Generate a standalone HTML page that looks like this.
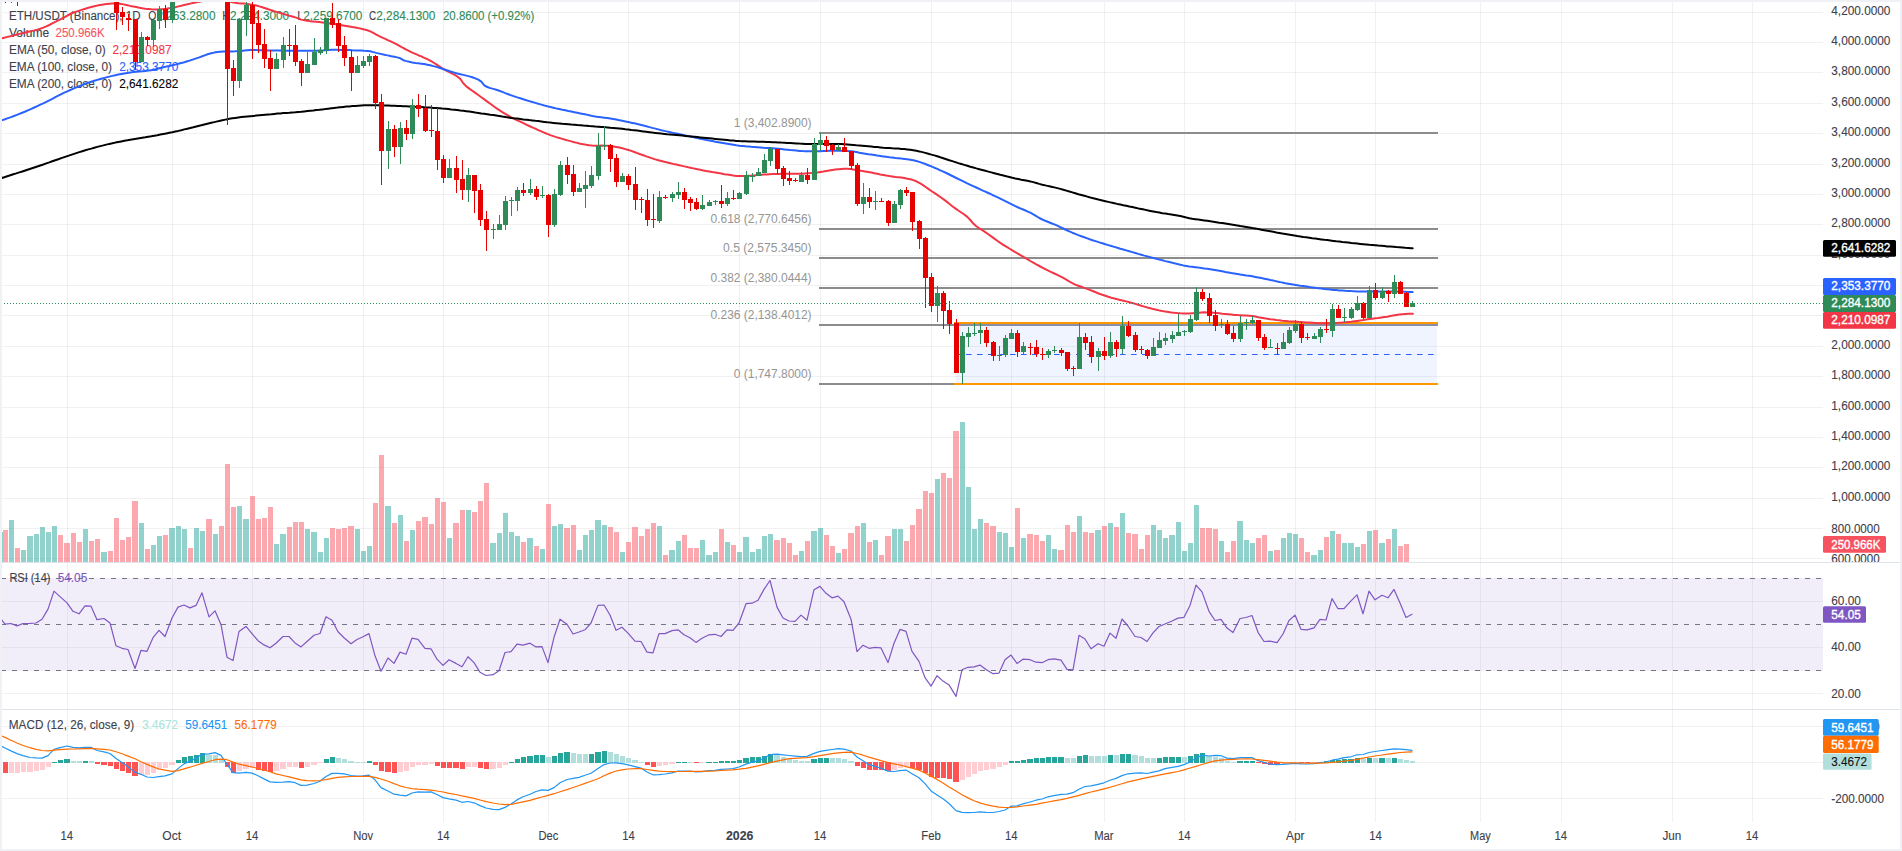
<!DOCTYPE html>
<html><head><meta charset="utf-8"><title>ETH/USDT chart</title>
<style>html,body{margin:0;padding:0;background:#fff;overflow:hidden}svg{display:block}</style></head>
<body>
<svg width="1902" height="851" viewBox="0 0 1902 851" font-family="Liberation Sans, Arial, sans-serif" shape-rendering="auto">
<rect width="1902" height="851" fill="#fff"/>
<g stroke="#2a2e39" stroke-opacity="0.065" stroke-width="1" shape-rendering="crispEdges">
<line x1="67.5" y1="2" x2="67.5" y2="822"/>
<line x1="172.5" y1="2" x2="172.5" y2="822"/>
<line x1="252.5" y1="2" x2="252.5" y2="822"/>
<line x1="363.5" y1="2" x2="363.5" y2="822"/>
<line x1="443.5" y1="2" x2="443.5" y2="822"/>
<line x1="548.5" y1="2" x2="548.5" y2="822"/>
<line x1="628.5" y1="2" x2="628.5" y2="822"/>
<line x1="739.5" y1="2" x2="739.5" y2="822"/>
<line x1="820.5" y1="2" x2="820.5" y2="822"/>
<line x1="931.5" y1="2" x2="931.5" y2="822"/>
<line x1="1011.5" y1="2" x2="1011.5" y2="822"/>
<line x1="1104.5" y1="2" x2="1104.5" y2="822"/>
<line x1="1184.5" y1="2" x2="1184.5" y2="822"/>
<line x1="1295.5" y1="2" x2="1295.5" y2="822"/>
<line x1="1375.5" y1="2" x2="1375.5" y2="822"/>
<line x1="1480.5" y1="2" x2="1480.5" y2="822"/>
<line x1="1561.5" y1="2" x2="1561.5" y2="822"/>
<line x1="1672.5" y1="2" x2="1672.5" y2="822"/>
<line x1="1752.5" y1="2" x2="1752.5" y2="822"/>
<line x1="2" y1="558.5" x2="1823" y2="558.5"/>
<line x1="2" y1="528.5" x2="1823" y2="528.5"/>
<line x1="2" y1="498.5" x2="1823" y2="498.5"/>
<line x1="2" y1="467.5" x2="1823" y2="467.5"/>
<line x1="2" y1="437.5" x2="1823" y2="437.5"/>
<line x1="2" y1="407.5" x2="1823" y2="407.5"/>
<line x1="2" y1="376.5" x2="1823" y2="376.5"/>
<line x1="2" y1="346.5" x2="1823" y2="346.5"/>
<line x1="2" y1="315.5" x2="1823" y2="315.5"/>
<line x1="2" y1="285.5" x2="1823" y2="285.5"/>
<line x1="2" y1="255.5" x2="1823" y2="255.5"/>
<line x1="2" y1="224.5" x2="1823" y2="224.5"/>
<line x1="2" y1="194.5" x2="1823" y2="194.5"/>
<line x1="2" y1="164.5" x2="1823" y2="164.5"/>
<line x1="2" y1="133.5" x2="1823" y2="133.5"/>
<line x1="2" y1="103.5" x2="1823" y2="103.5"/>
<line x1="2" y1="72.5" x2="1823" y2="72.5"/>
<line x1="2" y1="42.5" x2="1823" y2="42.5"/>
<line x1="2" y1="12.5" x2="1823" y2="12.5"/>
<line x1="2" y1="601.5" x2="1823" y2="601.5"/>
<line x1="2" y1="647.5" x2="1823" y2="647.5"/>
<line x1="2" y1="693.5" x2="1823" y2="693.5"/>
<line x1="2" y1="726.5" x2="1823" y2="726.5"/>
<line x1="2" y1="762.5" x2="1823" y2="762.5"/>
<line x1="2" y1="798.5" x2="1823" y2="798.5"/>
</g>
<rect x="2" y="578" width="1821" height="93" fill="#7e57c2" fill-opacity="0.1"/>
<g id="legend">
<text x="9.00" y="19.80" font-size="12" fill="#3d404a" text-anchor="start" textLength="131.59" lengthAdjust="spacingAndGlyphs" stroke="#3d404a" stroke-width="0.1">ETH/USDT (Binance), 1D</text>
<text x="148.30" y="19.80" font-size="12" fill="#3d404a" text-anchor="start" textLength="8.09" lengthAdjust="spacingAndGlyphs" stroke="#3d404a" stroke-width="0.1">O</text>
<text x="156.39" y="19.80" font-size="12" fill="#2e8b57" text-anchor="start" textLength="59.11" lengthAdjust="spacingAndGlyphs" stroke="#2e8b57" stroke-width="0.1">2,263.2800</text>
<text x="222.20" y="19.80" font-size="12" fill="#3d404a" text-anchor="start" textLength="7.85" lengthAdjust="spacingAndGlyphs" stroke="#3d404a" stroke-width="0.1">H</text>
<text x="230.05" y="19.80" font-size="12" fill="#2e8b57" text-anchor="start" textLength="59.11" lengthAdjust="spacingAndGlyphs" stroke="#2e8b57" stroke-width="0.1">2,294.3000</text>
<text x="297.20" y="19.80" font-size="12" fill="#3d404a" text-anchor="start" textLength="6.07" lengthAdjust="spacingAndGlyphs" stroke="#3d404a" stroke-width="0.1">L</text>
<text x="303.27" y="19.80" font-size="12" fill="#2e8b57" text-anchor="start" textLength="59.11" lengthAdjust="spacingAndGlyphs" stroke="#2e8b57" stroke-width="0.1">2,259.6700</text>
<text x="369.10" y="19.80" font-size="12" fill="#3d404a" text-anchor="start" textLength="7.18" lengthAdjust="spacingAndGlyphs" stroke="#3d404a" stroke-width="0.1">C</text>
<text x="376.28" y="19.80" font-size="12" fill="#2e8b57" text-anchor="start" textLength="59.11" lengthAdjust="spacingAndGlyphs" stroke="#2e8b57" stroke-width="0.1">2,284.1300</text>
<text x="443.00" y="19.80" font-size="12" fill="#2e8b57" text-anchor="start" textLength="91.31" lengthAdjust="spacingAndGlyphs" stroke="#2e8b57" stroke-width="0.1">20.8600 (+0.92%)</text>
<text x="9.00" y="36.80" font-size="12" fill="#3d404a" text-anchor="start" textLength="40.08" lengthAdjust="spacingAndGlyphs" stroke="#3d404a" stroke-width="0.1">Volume</text>
<text x="55.60" y="36.80" font-size="12" fill="#f7525f" text-anchor="start" textLength="49.04" lengthAdjust="spacingAndGlyphs" stroke="#f7525f" stroke-width="0.1">250.966K</text>
<text x="9.00" y="53.80" font-size="12" fill="#3d404a" text-anchor="start" textLength="96.66" lengthAdjust="spacingAndGlyphs" stroke="#3d404a" stroke-width="0.1">EMA (50, close, 0)</text>
<text x="112.50" y="53.80" font-size="12" fill="#f23645" text-anchor="start" textLength="59.11" lengthAdjust="spacingAndGlyphs" stroke="#f23645" stroke-width="0.1">2,210.0987</text>
<text x="9.00" y="70.80" font-size="12" fill="#3d404a" text-anchor="start" textLength="102.95" lengthAdjust="spacingAndGlyphs" stroke="#3d404a" stroke-width="0.1">EMA (100, close, 0)</text>
<text x="119.20" y="70.80" font-size="12" fill="#2962ff" text-anchor="start" textLength="59.11" lengthAdjust="spacingAndGlyphs" stroke="#2962ff" stroke-width="0.1">2,353.3770</text>
<text x="9.00" y="87.80" font-size="12" fill="#3d404a" text-anchor="start" textLength="102.95" lengthAdjust="spacingAndGlyphs" stroke="#3d404a" stroke-width="0.1">EMA (200, close, 0)</text>
<text x="119.20" y="87.80" font-size="12" fill="#000" text-anchor="start" textLength="59.11" lengthAdjust="spacingAndGlyphs" stroke="#000" stroke-width="0.1">2,641.6282</text>
</g>
<g shape-rendering="crispEdges">
<rect x="3" y="530.0" width="5" height="32.0" fill="#f7525f" fill-opacity="0.5"/>
<rect x="9" y="519.9" width="5" height="42.1" fill="#26a69a" fill-opacity="0.5"/>
<rect x="15" y="548.0" width="5" height="14.0" fill="#f7525f" fill-opacity="0.5"/>
<rect x="21" y="549.9" width="5" height="12.1" fill="#26a69a" fill-opacity="0.5"/>
<rect x="27" y="535.9" width="6" height="26.1" fill="#26a69a" fill-opacity="0.5"/>
<rect x="34" y="533.9" width="5" height="28.1" fill="#26a69a" fill-opacity="0.5"/>
<rect x="40" y="527.0" width="5" height="35.0" fill="#26a69a" fill-opacity="0.5"/>
<rect x="46" y="532.0" width="5" height="30.0" fill="#26a69a" fill-opacity="0.5"/>
<rect x="52" y="525.8" width="5" height="36.2" fill="#26a69a" fill-opacity="0.5"/>
<rect x="58" y="535.1" width="5" height="26.9" fill="#f7525f" fill-opacity="0.5"/>
<rect x="64" y="543.0" width="6" height="19.0" fill="#f7525f" fill-opacity="0.5"/>
<rect x="71" y="533.0" width="5" height="29.0" fill="#f7525f" fill-opacity="0.5"/>
<rect x="77" y="542.0" width="5" height="20.0" fill="#f7525f" fill-opacity="0.5"/>
<rect x="83" y="528.8" width="5" height="33.2" fill="#26a69a" fill-opacity="0.5"/>
<rect x="89" y="540.9" width="5" height="21.1" fill="#f7525f" fill-opacity="0.5"/>
<rect x="95" y="538.9" width="5" height="23.1" fill="#f7525f" fill-opacity="0.5"/>
<rect x="101" y="551.9" width="6" height="10.1" fill="#26a69a" fill-opacity="0.5"/>
<rect x="108" y="551.0" width="5" height="11.0" fill="#f7525f" fill-opacity="0.5"/>
<rect x="114" y="517.9" width="5" height="44.1" fill="#f7525f" fill-opacity="0.5"/>
<rect x="120" y="540.1" width="5" height="21.9" fill="#f7525f" fill-opacity="0.5"/>
<rect x="126" y="537.1" width="5" height="24.9" fill="#f7525f" fill-opacity="0.5"/>
<rect x="132" y="500.9" width="6" height="61.1" fill="#f7525f" fill-opacity="0.5"/>
<rect x="139" y="522.9" width="5" height="39.1" fill="#26a69a" fill-opacity="0.5"/>
<rect x="145" y="549.0" width="5" height="13.0" fill="#f7525f" fill-opacity="0.5"/>
<rect x="151" y="545.0" width="5" height="17.0" fill="#26a69a" fill-opacity="0.5"/>
<rect x="157" y="535.9" width="5" height="26.1" fill="#26a69a" fill-opacity="0.5"/>
<rect x="163" y="535.1" width="5" height="26.9" fill="#f7525f" fill-opacity="0.5"/>
<rect x="169" y="528.0" width="6" height="34.0" fill="#26a69a" fill-opacity="0.5"/>
<rect x="176" y="526.0" width="5" height="36.0" fill="#26a69a" fill-opacity="0.5"/>
<rect x="182" y="529.0" width="5" height="33.0" fill="#26a69a" fill-opacity="0.5"/>
<rect x="188" y="548.0" width="5" height="14.0" fill="#f7525f" fill-opacity="0.5"/>
<rect x="194" y="528.0" width="5" height="34.0" fill="#26a69a" fill-opacity="0.5"/>
<rect x="200" y="531.0" width="5" height="31.0" fill="#26a69a" fill-opacity="0.5"/>
<rect x="206" y="519.1" width="6" height="42.9" fill="#f7525f" fill-opacity="0.5"/>
<rect x="213" y="533.9" width="5" height="28.1" fill="#26a69a" fill-opacity="0.5"/>
<rect x="219" y="526.0" width="5" height="36.0" fill="#f7525f" fill-opacity="0.5"/>
<rect x="225" y="463.9" width="5" height="98.1" fill="#f7525f" fill-opacity="0.5"/>
<rect x="231" y="507.0" width="5" height="55.0" fill="#f7525f" fill-opacity="0.5"/>
<rect x="237" y="506.0" width="5" height="56.0" fill="#26a69a" fill-opacity="0.5"/>
<rect x="243" y="519.1" width="6" height="42.9" fill="#26a69a" fill-opacity="0.5"/>
<rect x="250" y="496.0" width="5" height="66.0" fill="#f7525f" fill-opacity="0.5"/>
<rect x="256" y="519.1" width="5" height="42.9" fill="#f7525f" fill-opacity="0.5"/>
<rect x="262" y="517.9" width="5" height="44.1" fill="#f7525f" fill-opacity="0.5"/>
<rect x="268" y="507.0" width="5" height="55.0" fill="#f7525f" fill-opacity="0.5"/>
<rect x="274" y="544.0" width="5" height="18.0" fill="#26a69a" fill-opacity="0.5"/>
<rect x="280" y="533.9" width="6" height="28.1" fill="#26a69a" fill-opacity="0.5"/>
<rect x="287" y="527.0" width="5" height="35.0" fill="#f7525f" fill-opacity="0.5"/>
<rect x="293" y="521.9" width="5" height="40.1" fill="#f7525f" fill-opacity="0.5"/>
<rect x="299" y="521.9" width="5" height="40.1" fill="#f7525f" fill-opacity="0.5"/>
<rect x="305" y="529.0" width="5" height="33.0" fill="#26a69a" fill-opacity="0.5"/>
<rect x="311" y="532.0" width="6" height="30.0" fill="#26a69a" fill-opacity="0.5"/>
<rect x="318" y="551.9" width="5" height="10.1" fill="#26a69a" fill-opacity="0.5"/>
<rect x="324" y="538.1" width="5" height="23.9" fill="#26a69a" fill-opacity="0.5"/>
<rect x="330" y="528.0" width="5" height="34.0" fill="#f7525f" fill-opacity="0.5"/>
<rect x="336" y="529.0" width="5" height="33.0" fill="#f7525f" fill-opacity="0.5"/>
<rect x="342" y="528.0" width="5" height="34.0" fill="#f7525f" fill-opacity="0.5"/>
<rect x="348" y="526.0" width="6" height="36.0" fill="#f7525f" fill-opacity="0.5"/>
<rect x="355" y="529.0" width="5" height="33.0" fill="#26a69a" fill-opacity="0.5"/>
<rect x="361" y="551.0" width="5" height="11.0" fill="#26a69a" fill-opacity="0.5"/>
<rect x="367" y="546.0" width="5" height="16.0" fill="#26a69a" fill-opacity="0.5"/>
<rect x="373" y="502.9" width="5" height="59.1" fill="#f7525f" fill-opacity="0.5"/>
<rect x="379" y="455.0" width="5" height="107.0" fill="#f7525f" fill-opacity="0.5"/>
<rect x="385" y="506.0" width="6" height="56.0" fill="#26a69a" fill-opacity="0.5"/>
<rect x="392" y="522.9" width="5" height="39.1" fill="#f7525f" fill-opacity="0.5"/>
<rect x="398" y="515.0" width="5" height="47.0" fill="#26a69a" fill-opacity="0.5"/>
<rect x="404" y="540.9" width="5" height="21.1" fill="#f7525f" fill-opacity="0.5"/>
<rect x="410" y="530.0" width="5" height="32.0" fill="#26a69a" fill-opacity="0.5"/>
<rect x="416" y="520.9" width="5" height="41.1" fill="#f7525f" fill-opacity="0.5"/>
<rect x="422" y="517.1" width="6" height="44.9" fill="#f7525f" fill-opacity="0.5"/>
<rect x="429" y="524.0" width="5" height="38.0" fill="#f7525f" fill-opacity="0.5"/>
<rect x="435" y="498.0" width="5" height="64.0" fill="#f7525f" fill-opacity="0.5"/>
<rect x="441" y="501.9" width="5" height="60.1" fill="#f7525f" fill-opacity="0.5"/>
<rect x="447" y="538.1" width="5" height="23.9" fill="#26a69a" fill-opacity="0.5"/>
<rect x="453" y="522.9" width="6" height="39.1" fill="#f7525f" fill-opacity="0.5"/>
<rect x="460" y="510.0" width="5" height="52.0" fill="#f7525f" fill-opacity="0.5"/>
<rect x="466" y="510.0" width="5" height="52.0" fill="#26a69a" fill-opacity="0.5"/>
<rect x="472" y="512.0" width="5" height="50.0" fill="#f7525f" fill-opacity="0.5"/>
<rect x="478" y="500.9" width="5" height="61.1" fill="#f7525f" fill-opacity="0.5"/>
<rect x="484" y="482.9" width="5" height="79.1" fill="#f7525f" fill-opacity="0.5"/>
<rect x="490" y="543.0" width="6" height="19.0" fill="#26a69a" fill-opacity="0.5"/>
<rect x="497" y="533.0" width="5" height="29.0" fill="#26a69a" fill-opacity="0.5"/>
<rect x="503" y="513.0" width="5" height="49.0" fill="#26a69a" fill-opacity="0.5"/>
<rect x="509" y="532.0" width="5" height="30.0" fill="#26a69a" fill-opacity="0.5"/>
<rect x="515" y="535.9" width="5" height="26.1" fill="#26a69a" fill-opacity="0.5"/>
<rect x="521" y="542.0" width="5" height="20.0" fill="#f7525f" fill-opacity="0.5"/>
<rect x="527" y="538.1" width="6" height="23.9" fill="#26a69a" fill-opacity="0.5"/>
<rect x="534" y="546.0" width="5" height="16.0" fill="#f7525f" fill-opacity="0.5"/>
<rect x="540" y="549.0" width="5" height="13.0" fill="#26a69a" fill-opacity="0.5"/>
<rect x="546" y="503.9" width="5" height="58.1" fill="#f7525f" fill-opacity="0.5"/>
<rect x="552" y="526.0" width="5" height="36.0" fill="#26a69a" fill-opacity="0.5"/>
<rect x="558" y="524.0" width="5" height="38.0" fill="#26a69a" fill-opacity="0.5"/>
<rect x="564" y="528.0" width="6" height="34.0" fill="#f7525f" fill-opacity="0.5"/>
<rect x="571" y="525.0" width="5" height="37.0" fill="#f7525f" fill-opacity="0.5"/>
<rect x="577" y="550.0" width="5" height="12.0" fill="#26a69a" fill-opacity="0.5"/>
<rect x="583" y="535.1" width="5" height="26.9" fill="#26a69a" fill-opacity="0.5"/>
<rect x="589" y="530.0" width="5" height="32.0" fill="#26a69a" fill-opacity="0.5"/>
<rect x="595" y="519.9" width="6" height="42.1" fill="#26a69a" fill-opacity="0.5"/>
<rect x="602" y="525.0" width="5" height="37.0" fill="#26a69a" fill-opacity="0.5"/>
<rect x="608" y="527.0" width="5" height="35.0" fill="#f7525f" fill-opacity="0.5"/>
<rect x="614" y="532.0" width="5" height="30.0" fill="#f7525f" fill-opacity="0.5"/>
<rect x="620" y="551.9" width="5" height="10.1" fill="#26a69a" fill-opacity="0.5"/>
<rect x="626" y="542.0" width="5" height="20.0" fill="#f7525f" fill-opacity="0.5"/>
<rect x="632" y="527.0" width="6" height="35.0" fill="#f7525f" fill-opacity="0.5"/>
<rect x="639" y="535.9" width="5" height="26.1" fill="#f7525f" fill-opacity="0.5"/>
<rect x="645" y="529.0" width="5" height="33.0" fill="#f7525f" fill-opacity="0.5"/>
<rect x="651" y="522.9" width="5" height="39.1" fill="#f7525f" fill-opacity="0.5"/>
<rect x="657" y="526.0" width="5" height="36.0" fill="#26a69a" fill-opacity="0.5"/>
<rect x="663" y="554.9" width="5" height="7.1" fill="#f7525f" fill-opacity="0.5"/>
<rect x="669" y="550.0" width="6" height="12.0" fill="#26a69a" fill-opacity="0.5"/>
<rect x="676" y="540.9" width="5" height="21.1" fill="#26a69a" fill-opacity="0.5"/>
<rect x="682" y="535.1" width="5" height="26.9" fill="#f7525f" fill-opacity="0.5"/>
<rect x="688" y="548.0" width="5" height="14.0" fill="#f7525f" fill-opacity="0.5"/>
<rect x="694" y="548.0" width="5" height="14.0" fill="#f7525f" fill-opacity="0.5"/>
<rect x="700" y="540.1" width="5" height="21.9" fill="#26a69a" fill-opacity="0.5"/>
<rect x="706" y="554.9" width="6" height="7.1" fill="#26a69a" fill-opacity="0.5"/>
<rect x="713" y="551.9" width="5" height="10.1" fill="#26a69a" fill-opacity="0.5"/>
<rect x="719" y="529.0" width="5" height="33.0" fill="#f7525f" fill-opacity="0.5"/>
<rect x="725" y="542.0" width="5" height="20.0" fill="#26a69a" fill-opacity="0.5"/>
<rect x="731" y="545.0" width="5" height="17.0" fill="#f7525f" fill-opacity="0.5"/>
<rect x="737" y="551.9" width="5" height="10.1" fill="#26a69a" fill-opacity="0.5"/>
<rect x="743" y="537.1" width="6" height="24.9" fill="#26a69a" fill-opacity="0.5"/>
<rect x="750" y="551.9" width="5" height="10.1" fill="#26a69a" fill-opacity="0.5"/>
<rect x="756" y="549.0" width="5" height="13.0" fill="#26a69a" fill-opacity="0.5"/>
<rect x="762" y="535.9" width="5" height="26.1" fill="#26a69a" fill-opacity="0.5"/>
<rect x="768" y="533.9" width="5" height="28.1" fill="#26a69a" fill-opacity="0.5"/>
<rect x="774" y="540.1" width="6" height="21.9" fill="#f7525f" fill-opacity="0.5"/>
<rect x="781" y="538.1" width="5" height="23.9" fill="#f7525f" fill-opacity="0.5"/>
<rect x="787" y="543.0" width="5" height="19.0" fill="#f7525f" fill-opacity="0.5"/>
<rect x="793" y="554.9" width="5" height="7.1" fill="#f7525f" fill-opacity="0.5"/>
<rect x="799" y="551.0" width="5" height="11.0" fill="#26a69a" fill-opacity="0.5"/>
<rect x="805" y="540.9" width="5" height="21.1" fill="#f7525f" fill-opacity="0.5"/>
<rect x="811" y="531.0" width="6" height="31.0" fill="#26a69a" fill-opacity="0.5"/>
<rect x="818" y="528.0" width="5" height="34.0" fill="#26a69a" fill-opacity="0.5"/>
<rect x="824" y="535.1" width="5" height="26.9" fill="#f7525f" fill-opacity="0.5"/>
<rect x="830" y="546.0" width="5" height="16.0" fill="#f7525f" fill-opacity="0.5"/>
<rect x="836" y="553.1" width="5" height="8.9" fill="#26a69a" fill-opacity="0.5"/>
<rect x="842" y="549.0" width="5" height="13.0" fill="#f7525f" fill-opacity="0.5"/>
<rect x="848" y="533.0" width="6" height="29.0" fill="#f7525f" fill-opacity="0.5"/>
<rect x="855" y="526.0" width="5" height="36.0" fill="#f7525f" fill-opacity="0.5"/>
<rect x="861" y="522.9" width="5" height="39.1" fill="#26a69a" fill-opacity="0.5"/>
<rect x="867" y="542.0" width="5" height="20.0" fill="#f7525f" fill-opacity="0.5"/>
<rect x="873" y="540.1" width="5" height="21.9" fill="#26a69a" fill-opacity="0.5"/>
<rect x="879" y="554.9" width="5" height="7.1" fill="#f7525f" fill-opacity="0.5"/>
<rect x="885" y="535.9" width="6" height="26.1" fill="#f7525f" fill-opacity="0.5"/>
<rect x="892" y="529.0" width="5" height="33.0" fill="#26a69a" fill-opacity="0.5"/>
<rect x="898" y="529.0" width="5" height="33.0" fill="#26a69a" fill-opacity="0.5"/>
<rect x="904" y="541.1" width="5" height="20.9" fill="#f7525f" fill-opacity="0.5"/>
<rect x="910" y="525.2" width="5" height="36.8" fill="#f7525f" fill-opacity="0.5"/>
<rect x="916" y="509.2" width="6" height="52.8" fill="#f7525f" fill-opacity="0.5"/>
<rect x="923" y="491.2" width="5" height="70.8" fill="#f7525f" fill-opacity="0.5"/>
<rect x="929" y="493.2" width="5" height="68.8" fill="#f7525f" fill-opacity="0.5"/>
<rect x="935" y="479.2" width="5" height="82.8" fill="#26a69a" fill-opacity="0.5"/>
<rect x="941" y="473.2" width="5" height="88.8" fill="#f7525f" fill-opacity="0.5"/>
<rect x="947" y="478.2" width="5" height="83.8" fill="#f7525f" fill-opacity="0.5"/>
<rect x="953" y="431.1" width="6" height="130.9" fill="#f7525f" fill-opacity="0.5"/>
<rect x="960" y="422.2" width="5" height="139.8" fill="#26a69a" fill-opacity="0.5"/>
<rect x="966" y="487.1" width="5" height="74.9" fill="#26a69a" fill-opacity="0.5"/>
<rect x="972" y="529.2" width="5" height="32.8" fill="#26a69a" fill-opacity="0.5"/>
<rect x="978" y="519.3" width="5" height="42.7" fill="#26a69a" fill-opacity="0.5"/>
<rect x="984" y="523.1" width="5" height="38.9" fill="#f7525f" fill-opacity="0.5"/>
<rect x="990" y="526.2" width="6" height="35.8" fill="#f7525f" fill-opacity="0.5"/>
<rect x="997" y="532.2" width="5" height="29.8" fill="#26a69a" fill-opacity="0.5"/>
<rect x="1003" y="533.2" width="5" height="28.8" fill="#26a69a" fill-opacity="0.5"/>
<rect x="1009" y="547.2" width="5" height="14.8" fill="#26a69a" fill-opacity="0.5"/>
<rect x="1015" y="508.2" width="5" height="53.8" fill="#f7525f" fill-opacity="0.5"/>
<rect x="1021" y="538.3" width="5" height="23.7" fill="#26a69a" fill-opacity="0.5"/>
<rect x="1027" y="534.2" width="6" height="27.8" fill="#f7525f" fill-opacity="0.5"/>
<rect x="1034" y="535.3" width="5" height="26.7" fill="#f7525f" fill-opacity="0.5"/>
<rect x="1040" y="541.3" width="5" height="20.7" fill="#f7525f" fill-opacity="0.5"/>
<rect x="1046" y="535.3" width="5" height="26.7" fill="#26a69a" fill-opacity="0.5"/>
<rect x="1052" y="549.2" width="5" height="12.8" fill="#26a69a" fill-opacity="0.5"/>
<rect x="1058" y="550.2" width="6" height="11.8" fill="#f7525f" fill-opacity="0.5"/>
<rect x="1065" y="525.2" width="5" height="36.8" fill="#f7525f" fill-opacity="0.5"/>
<rect x="1071" y="532.2" width="5" height="29.8" fill="#f7525f" fill-opacity="0.5"/>
<rect x="1077" y="516.2" width="5" height="45.8" fill="#26a69a" fill-opacity="0.5"/>
<rect x="1083" y="532.2" width="5" height="29.8" fill="#f7525f" fill-opacity="0.5"/>
<rect x="1089" y="533.2" width="5" height="28.8" fill="#f7525f" fill-opacity="0.5"/>
<rect x="1095" y="530.2" width="6" height="31.8" fill="#26a69a" fill-opacity="0.5"/>
<rect x="1102" y="526.2" width="5" height="35.8" fill="#f7525f" fill-opacity="0.5"/>
<rect x="1108" y="523.1" width="5" height="38.9" fill="#26a69a" fill-opacity="0.5"/>
<rect x="1114" y="527.2" width="5" height="34.8" fill="#f7525f" fill-opacity="0.5"/>
<rect x="1120" y="513.2" width="5" height="48.8" fill="#26a69a" fill-opacity="0.5"/>
<rect x="1126" y="533.2" width="5" height="28.8" fill="#f7525f" fill-opacity="0.5"/>
<rect x="1132" y="534.2" width="6" height="27.8" fill="#f7525f" fill-opacity="0.5"/>
<rect x="1139" y="549.2" width="5" height="12.8" fill="#f7525f" fill-opacity="0.5"/>
<rect x="1145" y="535.3" width="5" height="26.7" fill="#f7525f" fill-opacity="0.5"/>
<rect x="1151" y="525.2" width="5" height="36.8" fill="#26a69a" fill-opacity="0.5"/>
<rect x="1157" y="530.2" width="5" height="31.8" fill="#26a69a" fill-opacity="0.5"/>
<rect x="1163" y="538.3" width="5" height="23.7" fill="#26a69a" fill-opacity="0.5"/>
<rect x="1169" y="535.3" width="6" height="26.7" fill="#26a69a" fill-opacity="0.5"/>
<rect x="1176" y="522.1" width="5" height="39.9" fill="#26a69a" fill-opacity="0.5"/>
<rect x="1182" y="551.2" width="5" height="10.8" fill="#26a69a" fill-opacity="0.5"/>
<rect x="1188" y="543.2" width="5" height="18.8" fill="#26a69a" fill-opacity="0.5"/>
<rect x="1194" y="505.1" width="5" height="56.9" fill="#26a69a" fill-opacity="0.5"/>
<rect x="1200" y="528.0" width="5" height="34.0" fill="#f7525f" fill-opacity="0.5"/>
<rect x="1206" y="528.0" width="6" height="34.0" fill="#f7525f" fill-opacity="0.5"/>
<rect x="1213" y="529.0" width="5" height="33.0" fill="#f7525f" fill-opacity="0.5"/>
<rect x="1219" y="541.0" width="5" height="21.0" fill="#26a69a" fill-opacity="0.5"/>
<rect x="1225" y="552.1" width="5" height="9.9" fill="#f7525f" fill-opacity="0.5"/>
<rect x="1231" y="541.0" width="5" height="21.0" fill="#f7525f" fill-opacity="0.5"/>
<rect x="1237" y="521.0" width="6" height="41.0" fill="#26a69a" fill-opacity="0.5"/>
<rect x="1244" y="540.1" width="5" height="21.9" fill="#26a69a" fill-opacity="0.5"/>
<rect x="1250" y="543.0" width="5" height="19.0" fill="#26a69a" fill-opacity="0.5"/>
<rect x="1256" y="538.1" width="5" height="23.9" fill="#f7525f" fill-opacity="0.5"/>
<rect x="1262" y="535.1" width="5" height="26.9" fill="#f7525f" fill-opacity="0.5"/>
<rect x="1268" y="551.1" width="5" height="10.9" fill="#26a69a" fill-opacity="0.5"/>
<rect x="1274" y="550.1" width="6" height="11.9" fill="#f7525f" fill-opacity="0.5"/>
<rect x="1281" y="538.1" width="5" height="23.9" fill="#26a69a" fill-opacity="0.5"/>
<rect x="1287" y="533.1" width="5" height="28.9" fill="#26a69a" fill-opacity="0.5"/>
<rect x="1293" y="534.1" width="5" height="27.9" fill="#26a69a" fill-opacity="0.5"/>
<rect x="1299" y="538.1" width="5" height="23.9" fill="#f7525f" fill-opacity="0.5"/>
<rect x="1305" y="552.1" width="5" height="9.9" fill="#f7525f" fill-opacity="0.5"/>
<rect x="1311" y="555.1" width="6" height="6.9" fill="#26a69a" fill-opacity="0.5"/>
<rect x="1318" y="550.1" width="5" height="11.9" fill="#26a69a" fill-opacity="0.5"/>
<rect x="1324" y="537.1" width="5" height="24.9" fill="#f7525f" fill-opacity="0.5"/>
<rect x="1330" y="531.0" width="5" height="31.0" fill="#26a69a" fill-opacity="0.5"/>
<rect x="1336" y="534.1" width="5" height="27.9" fill="#f7525f" fill-opacity="0.5"/>
<rect x="1342" y="543.0" width="5" height="19.0" fill="#26a69a" fill-opacity="0.5"/>
<rect x="1348" y="543.0" width="6" height="19.0" fill="#26a69a" fill-opacity="0.5"/>
<rect x="1355" y="547.0" width="5" height="15.0" fill="#26a69a" fill-opacity="0.5"/>
<rect x="1361" y="544.0" width="5" height="18.0" fill="#f7525f" fill-opacity="0.5"/>
<rect x="1367" y="531.0" width="5" height="31.0" fill="#26a69a" fill-opacity="0.5"/>
<rect x="1373" y="530.0" width="5" height="32.0" fill="#f7525f" fill-opacity="0.5"/>
<rect x="1379" y="543.0" width="6" height="19.0" fill="#26a69a" fill-opacity="0.5"/>
<rect x="1386" y="539.1" width="5" height="22.9" fill="#f7525f" fill-opacity="0.5"/>
<rect x="1392" y="529.0" width="5" height="33.0" fill="#26a69a" fill-opacity="0.5"/>
<rect x="1398" y="546.0" width="5" height="16.0" fill="#f7525f" fill-opacity="0.5"/>
<rect x="1404" y="544.0" width="5" height="18.0" fill="#f7525f" fill-opacity="0.5"/>
<rect x="2" y="532" width="1" height="30" fill="#26a69a" fill-opacity="0.5"/>
</g>
<rect x="955.5" y="323" width="481.5" height="61" fill="#2962ff" fill-opacity="0.07"/>
<g shape-rendering="crispEdges">
<rect x="819" y="132" width="619" height="2" fill="#8c8c8c"/>
<rect x="819" y="228" width="619" height="2" fill="#8c8c8c"/>
<rect x="819" y="257" width="619" height="2" fill="#8c8c8c"/>
<rect x="819" y="287" width="619" height="2" fill="#8c8c8c"/>
<rect x="819" y="324" width="619" height="2" fill="#8c8c8c"/>
<rect x="955" y="324" width="483" height="2" fill="#888ea5"/>
<rect x="819" y="383" width="619" height="2" fill="#8c8c8c"/>
<rect x="954" y="322" width="484" height="2" fill="#ff9800"/>
<rect x="954" y="383" width="484" height="2" fill="#ff9800"/>
</g>
<text x="811.60" y="126.50" font-size="12" fill="#959595" text-anchor="end" textLength="77.82" lengthAdjust="spacingAndGlyphs" stroke="none">1 (3,402.8900)</text>
<text x="811.60" y="222.50" font-size="12" fill="#959595" text-anchor="end" textLength="101.09" lengthAdjust="spacingAndGlyphs" stroke="none">0.618 (2,770.6456)</text>
<text x="811.60" y="251.50" font-size="12" fill="#959595" text-anchor="end" textLength="88.51" lengthAdjust="spacingAndGlyphs" stroke="none">0.5 (2,575.3450)</text>
<text x="811.60" y="281.50" font-size="12" fill="#959595" text-anchor="end" textLength="101.09" lengthAdjust="spacingAndGlyphs" stroke="none">0.382 (2,380.0444)</text>
<text x="811.60" y="318.50" font-size="12" fill="#959595" text-anchor="end" textLength="101.09" lengthAdjust="spacingAndGlyphs" stroke="none">0.236 (2,138.4012)</text>
<text x="811.60" y="377.50" font-size="12" fill="#959595" text-anchor="end" textLength="77.82" lengthAdjust="spacingAndGlyphs" stroke="none">0 (1,747.8000)</text>
<line x1="955" y1="354.5" x2="1437" y2="354.5" stroke="#2962ff" stroke-width="1" stroke-dasharray="5.6 5.4"/>
<clipPath id="cm"><rect x="2" y="2" width="1821" height="560"/></clipPath><g clip-path="url(#cm)">
<polyline points="1.3,38.5 4.3,37.7 7.3,36.9 10.3,36.2 13.3,35.4 16.3,34.7 19.3,33.9 22.3,33.2 25.3,32.5 28.3,31.8 31.3,31.1 34.3,30.4 37.3,29.6 40.3,28.7 43.3,27.6 46.3,26.4 49.3,25.0 52.3,23.4 55.3,21.9 58.3,20.4 61.3,18.9 64.3,17.3 67.3,15.6 70.3,14.0 73.3,12.7 76.3,11.6 79.3,10.6 82.3,9.6 85.3,8.7 88.3,7.8 91.3,7.0 94.3,6.3 97.3,5.6 100.3,5.0 103.3,4.5 106.3,4.0 109.3,3.7 112.3,3.6 115.3,3.6 118.3,3.6 121.3,3.9 124.3,4.6 127.3,5.2 130.3,5.9 133.3,6.5 136.3,7.1 139.3,7.7 142.3,8.3 145.3,8.7 148.3,9.0 151.3,9.3 154.3,9.4 157.3,9.4 160.3,9.2 163.3,9.0 166.3,8.7 169.3,8.2 172.3,7.7 175.3,7.2 178.3,6.4 181.3,5.7 184.3,4.9 187.3,4.3 190.3,3.6 193.3,2.9 196.3,2.3 199.3,1.7 202.3,1.1 205.3,0.3 208.3,-0.4 211.3,-1.0 214.3,-1.2 217.3,-1.3 220.3,-1.3 223.3,-0.7 226.3,0.1 229.3,1.3 232.3,2.2 235.3,2.8 238.3,3.2 241.3,3.4 244.3,3.6 247.3,4.0 250.3,4.4 253.3,4.9 256.3,5.5 259.3,6.4 262.3,7.3 265.3,8.3 268.3,9.3 271.3,10.2 274.3,11.2 277.3,12.1 280.3,13.0 283.3,13.9 286.3,14.8 289.3,15.7 292.3,16.5 295.3,17.4 298.3,18.4 301.3,19.6 304.3,20.3 307.3,20.8 310.3,21.2 313.3,21.5 316.3,21.8 319.3,22.1 322.3,22.4 325.3,22.8 328.3,23.2 331.3,23.6 334.3,24.0 337.3,24.4 340.3,24.9 343.3,25.4 346.3,25.9 349.3,26.4 352.3,27.0 355.3,27.5 358.3,28.1 361.3,28.8 364.3,29.5 367.3,30.3 370.3,31.4 373.3,32.9 376.3,34.6 379.3,36.2 382.3,37.6 385.3,38.9 388.3,40.3 391.3,41.6 394.3,43.1 397.3,44.6 400.3,46.3 403.3,48.0 406.3,49.6 409.3,51.1 412.3,52.6 415.3,53.9 418.3,55.2 421.3,56.4 424.3,57.8 427.3,59.2 430.3,60.7 433.3,62.5 436.3,64.4 439.3,66.4 442.3,68.3 445.3,70.2 448.3,71.7 451.3,73.2 454.3,74.7 457.3,76.5 460.3,78.9 463.3,83.2 466.3,86.4 469.3,88.6 472.3,90.7 475.3,92.9 478.3,95.0 481.3,97.2 484.3,99.4 487.3,101.6 490.3,103.8 493.3,106.0 496.3,108.2 499.3,110.2 502.3,112.1 505.3,113.9 508.3,115.6 511.3,117.3 514.3,118.8 517.3,120.3 520.3,121.7 523.3,123.2 526.3,124.6 529.3,126.0 532.3,127.4 535.3,128.7 538.3,130.1 541.3,131.4 544.3,132.7 547.3,133.9 550.3,135.1 553.3,136.1 556.3,137.1 559.3,138.0 562.3,138.9 565.3,139.8 568.3,140.6 571.3,141.4 574.3,142.2 577.3,142.9 580.3,143.7 583.3,144.3 586.3,144.8 589.3,145.2 592.3,145.5 595.3,145.7 598.3,145.7 601.3,145.6 604.3,145.7 607.3,145.8 610.3,146.1 613.3,146.5 616.3,146.9 619.3,147.5 622.3,148.2 625.3,149.1 628.3,150.0 631.3,150.9 634.3,152.0 637.3,153.1 640.3,154.2 643.3,155.3 646.3,156.4 649.3,157.4 652.3,158.4 655.3,159.4 658.3,160.2 661.3,161.0 664.3,161.8 667.3,162.5 670.3,163.2 673.3,163.9 676.3,164.5 679.3,165.2 682.3,165.9 685.3,166.6 688.3,167.3 691.3,167.9 694.3,168.6 697.3,169.2 700.3,169.8 703.3,170.4 706.3,171.0 709.3,171.5 712.3,172.1 715.3,172.6 718.3,173.1 721.3,173.6 724.3,174.2 727.3,174.6 730.3,175.1 733.3,175.6 736.3,176.0 739.3,176.1 742.3,176.1 745.3,176.0 748.3,175.8 751.3,175.7 754.3,175.4 757.3,175.1 760.3,174.9 763.3,174.6 766.3,174.4 769.3,174.2 772.3,174.0 775.3,173.9 778.3,173.9 781.3,173.8 784.3,173.8 787.3,173.8 790.3,173.8 793.3,173.8 796.3,173.8 799.3,173.8 802.3,173.7 805.3,173.5 808.3,173.3 811.3,173.1 814.3,172.8 817.3,172.4 820.3,171.9 823.3,171.5 826.3,171.0 829.3,170.5 832.3,170.0 835.3,169.6 838.3,169.3 841.3,169.0 844.3,168.8 847.3,168.8 850.3,169.0 853.3,169.5 856.3,169.9 859.3,170.4 862.3,170.9 865.3,171.4 868.3,172.0 871.3,172.6 874.3,173.2 877.3,173.8 880.3,174.4 883.3,174.9 886.3,175.5 889.3,176.0 892.3,176.4 895.3,176.9 898.3,177.2 901.3,177.6 904.3,178.1 907.3,178.7 910.3,179.3 913.3,180.1 916.3,181.3 919.3,182.9 922.3,184.6 925.3,186.7 928.3,188.9 931.3,191.0 934.3,192.9 937.3,194.9 940.3,197.0 943.3,199.1 946.3,201.4 949.3,203.8 952.3,206.2 955.3,208.4 958.3,210.5 961.3,212.5 964.3,214.5 967.3,216.9 970.3,220.0 973.3,223.6 976.3,226.2 979.3,228.3 982.3,230.2 985.3,232.1 988.3,234.2 991.3,236.4 994.3,238.6 997.3,240.8 1000.3,242.9 1003.3,244.8 1006.3,246.7 1009.3,248.5 1012.3,250.4 1015.3,252.2 1018.3,253.9 1021.3,255.7 1024.3,257.4 1027.3,259.2 1030.3,261.0 1033.3,262.7 1036.3,264.4 1039.3,266.0 1042.3,267.6 1045.3,269.2 1048.3,270.7 1051.3,272.1 1054.3,273.5 1057.3,274.9 1060.3,276.3 1063.3,277.8 1066.3,279.6 1069.3,281.5 1072.3,283.2 1075.3,284.6 1078.3,285.8 1081.3,286.8 1084.3,287.9 1087.3,288.9 1090.3,290.1 1093.3,291.3 1096.3,292.5 1099.3,293.7 1102.3,294.8 1105.3,295.8 1108.3,296.8 1111.3,297.7 1114.3,298.5 1117.3,299.3 1120.3,300.0 1123.3,300.7 1126.3,301.4 1129.3,302.2 1132.3,303.0 1135.3,303.9 1138.3,304.8 1141.3,305.7 1144.3,306.6 1147.3,307.5 1150.3,308.3 1153.3,309.1 1156.3,309.7 1159.3,310.4 1162.3,311.0 1165.3,311.5 1168.3,311.9 1171.3,312.4 1174.3,312.8 1177.3,313.1 1180.3,313.3 1183.3,313.4 1186.3,313.5 1189.3,313.5 1192.3,313.3 1195.3,313.1 1198.3,312.8 1201.3,312.4 1204.3,312.3 1207.3,312.4 1210.3,312.5 1213.3,312.7 1216.3,313.0 1219.3,313.3 1222.3,313.7 1225.3,314.0 1228.3,314.3 1231.3,314.6 1234.3,314.9 1237.3,315.1 1240.3,315.2 1243.3,315.4 1246.3,315.6 1249.3,315.8 1252.3,316.1 1255.3,316.6 1258.3,317.2 1261.3,317.7 1264.3,318.2 1267.3,318.7 1270.3,319.2 1273.3,319.6 1276.3,320.0 1279.3,320.3 1282.3,320.7 1285.3,320.9 1288.3,321.2 1291.3,321.4 1294.3,321.6 1297.3,321.8 1300.3,322.0 1303.3,322.2 1306.3,322.4 1309.3,322.6 1312.3,322.8 1315.3,323.0 1318.3,323.2 1321.3,323.3 1324.3,323.3 1327.3,323.2 1330.3,323.2 1333.3,323.1 1336.3,323.0 1339.3,322.8 1342.3,322.6 1345.3,322.3 1348.3,322.0 1351.3,321.7 1354.3,321.3 1357.3,320.9 1360.3,320.5 1363.3,320.1 1366.3,319.6 1369.3,319.1 1372.3,318.7 1375.3,318.2 1378.3,317.9 1381.3,317.5 1384.3,317.1 1387.3,316.7 1390.3,316.1 1393.3,315.5 1396.3,315.0 1399.3,314.6 1402.3,314.3 1405.3,314.0 1408.3,313.8 1411.3,313.7 1412.9,313.7" fill="none" stroke="#f23645" stroke-width="2" stroke-linejoin="round" stroke-linecap="round"/>
<polyline points="1.3,120.5 4.3,119.5 7.3,118.4 10.3,117.4 13.3,116.3 16.3,115.1 19.3,113.9 22.3,112.7 25.3,111.5 28.3,110.2 31.3,108.9 34.3,107.5 37.3,106.1 40.3,104.7 43.3,103.3 46.3,101.8 49.3,100.3 52.3,98.8 55.3,97.2 58.3,95.7 61.3,94.1 64.3,92.7 67.3,91.3 70.3,90.0 73.3,88.7 76.3,87.4 79.3,86.2 82.3,85.0 85.3,83.8 88.3,82.8 91.3,81.8 94.3,80.8 97.3,79.9 100.3,79.0 103.3,78.2 106.3,77.4 109.3,76.6 112.3,75.9 115.3,75.2 118.3,74.6 121.3,74.0 124.3,73.4 127.3,72.9 130.3,72.4 133.3,72.0 136.3,71.7 139.3,71.4 142.3,71.2 145.3,70.9 148.3,70.6 151.3,70.2 154.3,69.6 157.3,68.8 160.3,68.0 163.3,67.3 166.3,66.6 169.3,66.0 172.3,65.3 175.3,64.6 178.3,63.8 181.3,63.0 184.3,62.2 187.3,61.3 190.3,60.4 193.3,59.4 196.3,58.4 199.3,57.4 202.3,56.2 205.3,55.1 208.3,54.0 211.3,53.3 214.3,52.6 217.3,52.1 220.3,51.8 223.3,51.6 226.3,51.6 229.3,51.5 232.3,51.4 235.3,51.3 238.3,51.1 241.3,50.9 244.3,50.6 247.3,50.3 250.3,50.1 253.3,50.1 256.3,50.1 259.3,50.2 262.3,50.2 265.3,50.3 268.3,50.4 271.3,50.5 274.3,50.5 277.3,50.6 280.3,50.6 283.3,50.6 286.3,50.7 289.3,50.7 292.3,50.8 295.3,50.8 298.3,50.8 301.3,50.8 304.3,50.8 307.3,50.8 310.3,50.8 313.3,50.8 316.3,50.7 319.3,50.5 322.3,50.4 325.3,50.2 328.3,50.0 331.3,49.8 334.3,49.8 337.3,49.8 340.3,49.9 343.3,49.9 346.3,50.0 349.3,50.1 352.3,50.3 355.3,50.4 358.3,50.5 361.3,50.6 364.3,50.8 367.3,50.9 370.3,51.3 373.3,52.1 376.3,52.9 379.3,53.6 382.3,54.3 385.3,54.9 388.3,55.6 391.3,56.2 394.3,56.7 397.3,57.4 400.3,58.3 403.3,60.2 406.3,61.1 409.3,61.8 412.3,62.4 415.3,62.9 418.3,63.3 421.3,63.7 424.3,64.1 427.3,64.7 430.3,65.3 433.3,66.1 436.3,66.9 439.3,67.8 442.3,68.7 445.3,69.7 448.3,70.7 451.3,71.7 454.3,72.6 457.3,73.5 460.3,74.2 463.3,74.9 466.3,75.6 469.3,76.4 472.3,77.3 475.3,78.4 478.3,79.7 481.3,81.7 484.3,85.4 487.3,87.0 490.3,88.1 493.3,88.9 496.3,89.7 499.3,90.7 502.3,91.9 505.3,93.1 508.3,94.2 511.3,95.4 514.3,96.4 517.3,97.4 520.3,98.3 523.3,99.3 526.3,100.2 529.3,101.1 532.3,102.0 535.3,102.9 538.3,103.8 541.3,104.6 544.3,105.5 547.3,106.3 550.3,107.0 553.3,107.7 556.3,108.4 559.3,109.0 562.3,109.7 565.3,110.3 568.3,111.0 571.3,111.6 574.3,112.2 577.3,112.8 580.3,113.4 583.3,114.0 586.3,114.6 589.3,115.3 592.3,116.1 595.3,116.6 598.3,116.9 601.3,117.3 604.3,117.7 607.3,118.1 610.3,118.6 613.3,119.1 616.3,119.6 619.3,120.2 622.3,120.8 625.3,121.4 628.3,122.0 631.3,122.7 634.3,123.3 637.3,124.0 640.3,124.7 643.3,125.5 646.3,126.3 649.3,127.1 652.3,127.9 655.3,128.6 658.3,129.4 661.3,130.2 664.3,130.9 667.3,131.6 670.3,132.2 673.3,132.9 676.3,133.5 679.3,134.1 682.3,134.8 685.3,135.4 688.3,136.1 691.3,136.7 694.3,137.4 697.3,138.0 700.3,138.7 703.3,139.3 706.3,140.0 709.3,140.6 712.3,141.1 715.3,141.7 718.3,142.2 721.3,142.7 724.3,143.2 727.3,143.7 730.3,144.2 733.3,144.7 736.3,145.3 739.3,145.7 742.3,146.0 745.3,146.3 748.3,146.5 751.3,146.8 754.3,147.0 757.3,147.2 760.3,147.4 763.3,147.7 766.3,147.9 769.3,148.1 772.3,148.3 775.3,148.5 778.3,148.8 781.3,149.1 784.3,149.4 787.3,149.7 790.3,150.1 793.3,150.3 796.3,150.6 799.3,150.9 802.3,151.1 805.3,151.2 808.3,151.3 811.3,151.3 814.3,151.3 817.3,151.3 820.3,151.2 823.3,151.1 826.3,151.0 829.3,150.8 832.3,150.7 835.3,150.7 838.3,150.7 841.3,150.8 844.3,150.9 847.3,151.1 850.3,151.3 853.3,151.6 856.3,152.1 859.3,152.7 862.3,153.2 865.3,153.7 868.3,154.2 871.3,154.6 874.3,155.1 877.3,155.6 880.3,156.0 883.3,156.4 886.3,156.8 889.3,157.2 892.3,157.5 895.3,157.9 898.3,158.2 901.3,158.6 904.3,158.9 907.3,159.3 910.3,159.7 913.3,160.3 916.3,161.0 919.3,161.9 922.3,162.9 925.3,164.0 928.3,165.2 931.3,166.4 934.3,167.7 937.3,168.9 940.3,170.3 943.3,171.6 946.3,173.0 949.3,174.5 952.3,176.0 955.3,177.5 958.3,179.0 961.3,180.4 964.3,181.9 967.3,183.4 970.3,184.8 973.3,186.2 976.3,187.5 979.3,188.9 982.3,190.3 985.3,191.6 988.3,193.0 991.3,194.4 994.3,195.8 997.3,197.2 1000.3,198.7 1003.3,200.2 1006.3,201.6 1009.3,203.1 1012.3,204.6 1015.3,206.1 1018.3,207.5 1021.3,208.8 1024.3,210.0 1027.3,211.3 1030.3,212.7 1033.3,214.4 1036.3,216.2 1039.3,218.0 1042.3,219.5 1045.3,220.8 1048.3,222.0 1051.3,223.2 1054.3,224.4 1057.3,225.7 1060.3,227.1 1063.3,228.5 1066.3,230.0 1069.3,231.4 1072.3,232.7 1075.3,233.9 1078.3,235.1 1081.3,236.2 1084.3,237.3 1087.3,238.4 1090.3,239.5 1093.3,240.5 1096.3,241.4 1099.3,242.4 1102.3,243.3 1105.3,244.2 1108.3,245.1 1111.3,246.0 1114.3,246.9 1117.3,247.8 1120.3,248.7 1123.3,249.5 1126.3,250.4 1129.3,251.3 1132.3,252.1 1135.3,253.0 1138.3,253.9 1141.3,254.7 1144.3,255.6 1147.3,256.4 1150.3,257.2 1153.3,258.0 1156.3,258.8 1159.3,259.6 1162.3,260.3 1165.3,261.1 1168.3,261.8 1171.3,262.5 1174.3,263.3 1177.3,264.0 1180.3,264.7 1183.3,265.4 1186.3,265.9 1189.3,266.4 1192.3,266.8 1195.3,267.2 1198.3,267.6 1201.3,267.9 1204.3,268.4 1207.3,268.8 1210.3,269.3 1213.3,269.8 1216.3,270.3 1219.3,270.8 1222.3,271.3 1225.3,271.9 1228.3,272.4 1231.3,273.0 1234.3,273.5 1237.3,274.0 1240.3,274.5 1243.3,274.9 1246.3,275.4 1249.3,275.8 1252.3,276.3 1255.3,276.9 1258.3,277.5 1261.3,278.1 1264.3,278.7 1267.3,279.3 1270.3,280.0 1273.3,280.6 1276.3,281.3 1279.3,281.9 1282.3,282.6 1285.3,283.2 1288.3,283.7 1291.3,284.2 1294.3,284.7 1297.3,285.2 1300.3,285.7 1303.3,286.1 1306.3,286.5 1309.3,287.0 1312.3,287.4 1315.3,287.8 1318.3,288.2 1321.3,288.6 1324.3,289.0 1327.3,289.3 1330.3,289.6 1333.3,289.9 1336.3,290.1 1339.3,290.4 1342.3,290.6 1345.3,290.8 1348.3,290.9 1351.3,291.1 1354.3,291.2 1357.3,291.4 1360.3,291.5 1363.3,291.5 1366.3,291.6 1369.3,291.6 1372.3,291.6 1375.3,291.6 1378.3,291.6 1381.3,291.6 1384.3,291.6 1387.3,291.6 1390.3,291.6 1393.3,291.6 1396.3,291.6 1399.3,291.6 1402.3,291.7 1405.3,291.8 1408.3,291.9 1411.3,292.0 1412.6,292.1" fill="none" stroke="#2962ff" stroke-width="2" stroke-linejoin="round" stroke-linecap="round"/>
<polyline points="1.3,178.1 4.3,177.2 7.3,176.2 10.3,175.3 13.3,174.3 16.3,173.4 19.3,172.4 22.3,171.5 25.3,170.5 28.3,169.5 31.3,168.5 34.3,167.5 37.3,166.5 40.3,165.5 43.3,164.5 46.3,163.4 49.3,162.4 52.3,161.3 55.3,160.2 58.3,159.2 61.3,158.1 64.3,157.1 67.3,156.1 70.3,155.1 73.3,154.1 76.3,153.1 79.3,152.1 82.3,151.2 85.3,150.3 88.3,149.4 91.3,148.6 94.3,147.7 97.3,146.9 100.3,146.1 103.3,145.4 106.3,144.6 109.3,143.9 112.3,143.3 115.3,142.6 118.3,142.0 121.3,141.4 124.3,140.8 127.3,140.3 130.3,139.7 133.3,139.2 136.3,138.7 139.3,138.2 142.3,137.7 145.3,137.3 148.3,136.8 151.3,136.3 154.3,135.7 157.3,135.2 160.3,134.6 163.3,134.0 166.3,133.4 169.3,132.8 172.3,132.2 175.3,131.5 178.3,130.9 181.3,130.2 184.3,129.4 187.3,128.7 190.3,128.0 193.3,127.3 196.3,126.5 199.3,125.7 202.3,125.0 205.3,124.2 208.3,123.5 211.3,122.8 214.3,122.1 217.3,121.4 220.3,120.7 223.3,120.1 226.3,119.4 229.3,118.8 232.3,118.3 235.3,117.9 238.3,117.5 241.3,117.1 244.3,116.8 247.3,116.5 250.3,116.2 253.3,115.9 256.3,115.6 259.3,115.3 262.3,115.0 265.3,114.7 268.3,114.4 271.3,114.2 274.3,113.9 277.3,113.6 280.3,113.4 283.3,113.1 286.3,112.9 289.3,112.7 292.3,112.4 295.3,112.2 298.3,111.9 301.3,111.7 304.3,111.4 307.3,111.1 310.3,110.8 313.3,110.5 316.3,110.1 319.3,109.8 322.3,109.4 325.3,109.1 328.3,108.7 331.3,108.3 334.3,107.9 337.3,107.6 340.3,107.2 343.3,106.9 346.3,106.6 349.3,106.4 352.3,106.1 355.3,105.9 358.3,105.7 361.3,105.5 364.3,105.3 367.3,105.2 370.3,105.2 373.3,105.2 376.3,105.2 379.3,105.3 382.3,105.4 385.3,105.5 388.3,105.6 391.3,105.7 394.3,105.8 397.3,105.9 400.3,106.0 403.3,106.2 406.3,106.3 409.3,106.5 412.3,106.6 415.3,106.8 418.3,106.9 421.3,107.1 424.3,107.3 427.3,107.4 430.3,107.6 433.3,107.9 436.3,108.1 439.3,108.3 442.3,108.6 445.3,108.8 448.3,109.1 451.3,109.5 454.3,109.8 457.3,110.1 460.3,110.5 463.3,110.8 466.3,111.2 469.3,111.6 472.3,112.0 475.3,112.5 478.3,112.9 481.3,113.4 484.3,113.8 487.3,114.2 490.3,114.7 493.3,115.1 496.3,115.6 499.3,116.1 502.3,116.6 505.3,117.0 508.3,117.4 511.3,117.9 514.3,118.3 517.3,118.6 520.3,119.0 523.3,119.4 526.3,119.7 529.3,120.1 532.3,120.4 535.3,120.8 538.3,121.1 541.3,121.5 544.3,121.9 547.3,122.3 550.3,122.6 553.3,122.9 556.3,123.2 559.3,123.5 562.3,123.8 565.3,124.0 568.3,124.2 571.3,124.5 574.3,124.7 577.3,125.0 580.3,125.2 583.3,125.5 586.3,125.7 589.3,126.0 592.3,126.2 595.3,126.5 598.3,126.7 601.3,126.9 604.3,127.1 607.3,127.4 610.3,127.7 613.3,127.9 616.3,128.2 619.3,128.5 622.3,128.8 625.3,129.2 628.3,129.5 631.3,129.9 634.3,130.2 637.3,130.6 640.3,131.0 643.3,131.4 646.3,131.8 649.3,132.2 652.3,132.6 655.3,132.9 658.3,133.2 661.3,133.6 664.3,133.9 667.3,134.2 670.3,134.4 673.3,134.7 676.3,135.0 679.3,135.3 682.3,135.6 685.3,135.9 688.3,136.2 691.3,136.5 694.3,136.8 697.3,137.1 700.3,137.4 703.3,137.7 706.3,138.0 709.3,138.3 712.3,138.6 715.3,138.9 718.3,139.2 721.3,139.5 724.3,139.8 727.3,140.1 730.3,140.4 733.3,140.6 736.3,140.9 739.3,141.1 742.3,141.2 745.3,141.3 748.3,141.4 751.3,141.5 754.3,141.6 757.3,141.7 760.3,141.8 763.3,141.8 766.3,141.9 769.3,142.0 772.3,142.2 775.3,142.3 778.3,142.4 781.3,142.6 784.3,142.7 787.3,142.9 790.3,143.0 793.3,143.2 796.3,143.4 799.3,143.6 802.3,143.7 805.3,143.9 808.3,144.0 811.3,144.0 814.3,144.0 817.3,143.9 820.3,143.9 823.3,143.9 826.3,143.9 829.3,143.9 832.3,143.9 835.3,143.9 838.3,144.0 841.3,144.1 844.3,144.3 847.3,144.5 850.3,144.7 853.3,144.9 856.3,145.2 859.3,145.4 862.3,145.7 865.3,146.0 868.3,146.3 871.3,146.6 874.3,146.9 877.3,147.1 880.3,147.4 883.3,147.7 886.3,147.9 889.3,148.1 892.3,148.3 895.3,148.4 898.3,148.6 901.3,148.9 904.3,149.1 907.3,149.4 910.3,149.7 913.3,150.2 916.3,150.8 919.3,151.4 922.3,152.1 925.3,152.9 928.3,153.7 931.3,154.6 934.3,155.4 937.3,156.3 940.3,157.3 943.3,158.2 946.3,159.2 949.3,160.2 952.3,161.1 955.3,162.1 958.3,163.1 961.3,164.0 964.3,164.9 967.3,165.8 970.3,166.7 973.3,167.5 976.3,168.4 979.3,169.2 982.3,170.0 985.3,170.8 988.3,171.6 991.3,172.4 994.3,173.2 997.3,174.0 1000.3,174.8 1003.3,175.5 1006.3,176.3 1009.3,177.0 1012.3,177.8 1015.3,178.5 1018.3,179.1 1021.3,179.7 1024.3,180.2 1027.3,180.8 1030.3,181.4 1033.3,182.1 1036.3,183.0 1039.3,183.9 1042.3,184.7 1045.3,185.4 1048.3,186.1 1051.3,186.7 1054.3,187.4 1057.3,188.1 1060.3,188.9 1063.3,189.7 1066.3,190.6 1069.3,191.5 1072.3,192.4 1075.3,193.3 1078.3,194.2 1081.3,195.0 1084.3,195.8 1087.3,196.6 1090.3,197.5 1093.3,198.2 1096.3,199.0 1099.3,199.8 1102.3,200.5 1105.3,201.2 1108.3,201.9 1111.3,202.6 1114.3,203.2 1117.3,203.9 1120.3,204.5 1123.3,205.2 1126.3,205.8 1129.3,206.5 1132.3,207.1 1135.3,207.7 1138.3,208.4 1141.3,209.0 1144.3,209.6 1147.3,210.3 1150.3,210.9 1153.3,211.5 1156.3,212.1 1159.3,212.6 1162.3,213.2 1165.3,213.6 1168.3,214.1 1171.3,214.5 1174.3,215.0 1177.3,215.5 1180.3,216.0 1183.3,216.7 1186.3,217.5 1189.3,218.2 1192.3,218.8 1195.3,219.2 1198.3,219.6 1201.3,220.0 1204.3,220.4 1207.3,220.8 1210.3,221.2 1213.3,221.7 1216.3,222.2 1219.3,222.7 1222.3,223.1 1225.3,223.6 1228.3,224.1 1231.3,224.6 1234.3,225.1 1237.3,225.6 1240.3,226.1 1243.3,226.5 1246.3,227.0 1249.3,227.5 1252.3,228.1 1255.3,228.6 1258.3,229.1 1261.3,229.7 1264.3,230.2 1267.3,230.8 1270.3,231.3 1273.3,231.8 1276.3,232.4 1279.3,232.9 1282.3,233.5 1285.3,234.0 1288.3,234.5 1291.3,235.0 1294.3,235.5 1297.3,236.0 1300.3,236.4 1303.3,236.9 1306.3,237.3 1309.3,237.7 1312.3,238.2 1315.3,238.6 1318.3,239.0 1321.3,239.4 1324.3,239.8 1327.3,240.1 1330.3,240.5 1333.3,240.9 1336.3,241.3 1339.3,241.6 1342.3,242.0 1345.3,242.3 1348.3,242.6 1351.3,243.0 1354.3,243.3 1357.3,243.6 1360.3,243.9 1363.3,244.2 1366.3,244.5 1369.3,244.8 1372.3,245.0 1375.3,245.3 1378.3,245.6 1381.3,245.8 1384.3,246.1 1387.3,246.4 1390.3,246.6 1393.3,246.8 1396.3,247.1 1399.3,247.3 1402.3,247.5 1405.3,247.8 1408.3,248.0 1411.3,248.2 1412.6,248.3" fill="none" stroke="#000" stroke-width="2" stroke-linejoin="round" stroke-linecap="round"/>
<g shape-rendering="crispEdges">
<rect x="5" y="-35.0" width="1" height="38.0" fill="#e60000"/>
<rect x="3" y="-30.0" width="5" height="20.0" fill="#e60000"/>
<rect x="11" y="-35.0" width="1" height="38.0" fill="#2e8b57"/>
<rect x="9" y="-30.0" width="5" height="20.0" fill="#2e8b57"/>
<rect x="17" y="-35.0" width="1" height="40.8" fill="#e60000"/>
<rect x="15" y="-30.0" width="5" height="20.0" fill="#e60000"/>
<rect x="116" y="-8.0" width="1" height="37.6" fill="#e60000"/>
<rect x="114" y="-5.0" width="5" height="17.7" fill="#e60000"/>
<rect x="122" y="7.2" width="1" height="17.7" fill="#e60000"/>
<rect x="120" y="12.2" width="5" height="4.7" fill="#e60000"/>
<rect x="128" y="14.3" width="1" height="16.4" fill="#e60000"/>
<rect x="126" y="17.5" width="5" height="2.1" fill="#e60000"/>
<rect x="135" y="18.8" width="1" height="51.0" fill="#e60000"/>
<rect x="133" y="19.0" width="5" height="43.4" fill="#e60000"/>
<rect x="141" y="32.3" width="1" height="29.6" fill="#2e8b57"/>
<rect x="139" y="37.0" width="5" height="24.9" fill="#2e8b57"/>
<rect x="147" y="36.0" width="1" height="9.5" fill="#e60000"/>
<rect x="145" y="37.0" width="5" height="2.7" fill="#e60000"/>
<rect x="153" y="20.1" width="1" height="26.4" fill="#2e8b57"/>
<rect x="151" y="20.1" width="5" height="19.6" fill="#2e8b57"/>
<rect x="159" y="6.3" width="1" height="22.3" fill="#2e8b57"/>
<rect x="157" y="9.3" width="5" height="11.3" fill="#2e8b57"/>
<rect x="165" y="5.1" width="1" height="22.6" fill="#e60000"/>
<rect x="163" y="9.2" width="5" height="11.2" fill="#e60000"/>
<rect x="172" y="-3.0" width="1" height="25.7" fill="#2e8b57"/>
<rect x="170" y="1.5" width="5" height="18.9" fill="#2e8b57"/>
<rect x="227" y="-8.0" width="1" height="133.4" fill="#e60000"/>
<rect x="225" y="-5.0" width="5" height="73.8" fill="#e60000"/>
<rect x="233" y="59.9" width="1" height="36.0" fill="#e60000"/>
<rect x="231" y="68.1" width="5" height="12.7" fill="#e60000"/>
<rect x="239" y="17.5" width="1" height="70.2" fill="#2e8b57"/>
<rect x="237" y="18.9" width="5" height="61.9" fill="#2e8b57"/>
<rect x="246" y="1.3" width="1" height="34.7" fill="#2e8b57"/>
<rect x="244" y="5.0" width="5" height="14.6" fill="#2e8b57"/>
<rect x="252" y="1.9" width="1" height="56.8" fill="#e60000"/>
<rect x="250" y="5.0" width="5" height="18.7" fill="#e60000"/>
<rect x="258" y="9.5" width="1" height="43.2" fill="#e60000"/>
<rect x="256" y="23.1" width="5" height="21.7" fill="#e60000"/>
<rect x="264" y="29.0" width="1" height="38.9" fill="#e60000"/>
<rect x="262" y="44.2" width="5" height="14.5" fill="#e60000"/>
<rect x="270" y="50.2" width="1" height="40.7" fill="#e60000"/>
<rect x="268" y="58.3" width="5" height="10.5" fill="#e60000"/>
<rect x="276" y="53.2" width="1" height="15.6" fill="#2e8b57"/>
<rect x="274" y="59.3" width="5" height="9.5" fill="#2e8b57"/>
<rect x="283" y="37.0" width="1" height="30.9" fill="#2e8b57"/>
<rect x="281" y="45.2" width="5" height="14.5" fill="#2e8b57"/>
<rect x="289" y="29.0" width="1" height="26.8" fill="#e60000"/>
<rect x="287" y="45.0" width="5" height="1.0" fill="#e60000"/>
<rect x="295" y="25.2" width="1" height="40.7" fill="#e60000"/>
<rect x="293" y="45.2" width="5" height="16.6" fill="#e60000"/>
<rect x="301" y="59.0" width="1" height="26.8" fill="#e60000"/>
<rect x="299" y="61.2" width="5" height="11.7" fill="#e60000"/>
<rect x="307" y="52.0" width="1" height="20.9" fill="#2e8b57"/>
<rect x="305" y="64.4" width="5" height="8.5" fill="#2e8b57"/>
<rect x="314" y="37.9" width="1" height="27.1" fill="#2e8b57"/>
<rect x="312" y="51.5" width="5" height="13.5" fill="#2e8b57"/>
<rect x="320" y="46.9" width="1" height="8.2" fill="#2e8b57"/>
<rect x="318" y="49.5" width="5" height="3.5" fill="#2e8b57"/>
<rect x="326" y="18.3" width="1" height="35.7" fill="#2e8b57"/>
<rect x="324" y="18.3" width="5" height="31.9" fill="#2e8b57"/>
<rect x="332" y="3.2" width="1" height="24.8" fill="#e60000"/>
<rect x="330" y="18.3" width="5" height="6.3" fill="#e60000"/>
<rect x="338" y="18.9" width="1" height="32.8" fill="#e60000"/>
<rect x="336" y="23.3" width="5" height="22.4" fill="#e60000"/>
<rect x="344" y="36.0" width="1" height="29.9" fill="#e60000"/>
<rect x="342" y="45.2" width="5" height="12.6" fill="#e60000"/>
<rect x="351" y="50.2" width="1" height="40.7" fill="#e60000"/>
<rect x="349" y="57.4" width="5" height="15.5" fill="#e60000"/>
<rect x="357" y="56.2" width="1" height="16.7" fill="#2e8b57"/>
<rect x="355" y="65.0" width="5" height="7.9" fill="#2e8b57"/>
<rect x="363" y="56.2" width="1" height="11.7" fill="#2e8b57"/>
<rect x="361" y="61.2" width="5" height="4.7" fill="#2e8b57"/>
<rect x="369" y="54.3" width="1" height="11.6" fill="#2e8b57"/>
<rect x="367" y="56.4" width="5" height="5.4" fill="#2e8b57"/>
<rect x="375" y="55.2" width="1" height="53.5" fill="#e60000"/>
<rect x="373" y="56.2" width="5" height="46.5" fill="#e60000"/>
<rect x="381" y="94.1" width="1" height="90.6" fill="#e60000"/>
<rect x="379" y="102.0" width="5" height="48.6" fill="#e60000"/>
<rect x="388" y="121.3" width="1" height="47.6" fill="#2e8b57"/>
<rect x="386" y="129.2" width="5" height="21.4" fill="#2e8b57"/>
<rect x="394" y="125.1" width="1" height="31.8" fill="#e60000"/>
<rect x="392" y="129.2" width="5" height="17.6" fill="#e60000"/>
<rect x="400" y="122.2" width="1" height="41.7" fill="#2e8b57"/>
<rect x="398" y="128.3" width="5" height="18.5" fill="#2e8b57"/>
<rect x="406" y="120.1" width="1" height="19.8" fill="#e60000"/>
<rect x="404" y="128.3" width="5" height="5.3" fill="#e60000"/>
<rect x="412" y="99.1" width="1" height="39.5" fill="#2e8b57"/>
<rect x="410" y="105.2" width="5" height="28.4" fill="#2e8b57"/>
<rect x="418" y="94.1" width="1" height="22.7" fill="#e60000"/>
<rect x="416" y="105.2" width="5" height="3.5" fill="#e60000"/>
<rect x="425" y="95.1" width="1" height="36.8" fill="#e60000"/>
<rect x="423" y="107.7" width="5" height="23.4" fill="#e60000"/>
<rect x="431" y="104.9" width="1" height="31.8" fill="#e60000"/>
<rect x="429" y="130.0" width="5" height="1.0" fill="#e60000"/>
<rect x="437" y="108.3" width="1" height="61.5" fill="#e60000"/>
<rect x="435" y="131.1" width="5" height="28.6" fill="#e60000"/>
<rect x="443" y="155.0" width="1" height="27.8" fill="#e60000"/>
<rect x="441" y="159.2" width="5" height="18.5" fill="#e60000"/>
<rect x="449" y="159.2" width="1" height="18.5" fill="#2e8b57"/>
<rect x="447" y="168.1" width="5" height="9.6" fill="#2e8b57"/>
<rect x="456" y="156.3" width="1" height="36.5" fill="#e60000"/>
<rect x="454" y="168.1" width="5" height="11.5" fill="#e60000"/>
<rect x="462" y="160.1" width="1" height="39.6" fill="#e60000"/>
<rect x="460" y="179.1" width="5" height="10.6" fill="#e60000"/>
<rect x="468" y="168.1" width="1" height="33.5" fill="#2e8b57"/>
<rect x="466" y="175.1" width="5" height="14.6" fill="#2e8b57"/>
<rect x="474" y="175.1" width="1" height="37.6" fill="#e60000"/>
<rect x="472" y="175.1" width="5" height="15.6" fill="#e60000"/>
<rect x="480" y="184.0" width="1" height="41.6" fill="#e60000"/>
<rect x="478" y="190.0" width="5" height="29.6" fill="#e60000"/>
<rect x="486" y="211.1" width="1" height="39.5" fill="#e60000"/>
<rect x="484" y="219.0" width="5" height="10.7" fill="#e60000"/>
<rect x="493" y="224.1" width="1" height="14.8" fill="#2e8b57"/>
<rect x="491" y="229.0" width="5" height="1.0" fill="#2e8b57"/>
<rect x="499" y="215.1" width="1" height="14.6" fill="#2e8b57"/>
<rect x="497" y="224.1" width="5" height="5.6" fill="#2e8b57"/>
<rect x="505" y="196.3" width="1" height="33.4" fill="#2e8b57"/>
<rect x="503" y="201.0" width="5" height="23.6" fill="#2e8b57"/>
<rect x="511" y="197.2" width="1" height="18.3" fill="#2e8b57"/>
<rect x="509" y="200.0" width="5" height="1.0" fill="#2e8b57"/>
<rect x="517" y="187.1" width="1" height="23.8" fill="#2e8b57"/>
<rect x="515" y="190.0" width="5" height="10.8" fill="#2e8b57"/>
<rect x="523" y="183.1" width="1" height="12.6" fill="#e60000"/>
<rect x="521" y="190.0" width="5" height="2.8" fill="#e60000"/>
<rect x="530" y="178.9" width="1" height="15.8" fill="#2e8b57"/>
<rect x="528" y="189.0" width="5" height="3.8" fill="#2e8b57"/>
<rect x="536" y="185.9" width="1" height="13.8" fill="#e60000"/>
<rect x="534" y="189.0" width="5" height="7.6" fill="#e60000"/>
<rect x="542" y="185.9" width="1" height="11.7" fill="#2e8b57"/>
<rect x="540" y="195.2" width="5" height="1.0" fill="#2e8b57"/>
<rect x="548" y="193.8" width="1" height="42.9" fill="#e60000"/>
<rect x="546" y="195.1" width="5" height="29.9" fill="#e60000"/>
<rect x="554" y="189.0" width="1" height="37.9" fill="#2e8b57"/>
<rect x="552" y="194.1" width="5" height="30.9" fill="#2e8b57"/>
<rect x="560" y="161.0" width="1" height="34.7" fill="#2e8b57"/>
<rect x="558" y="165.0" width="5" height="29.7" fill="#2e8b57"/>
<rect x="567" y="156.9" width="1" height="26.8" fill="#e60000"/>
<rect x="565" y="165.0" width="5" height="9.9" fill="#e60000"/>
<rect x="573" y="165.0" width="1" height="30.7" fill="#e60000"/>
<rect x="571" y="174.1" width="5" height="17.4" fill="#e60000"/>
<rect x="579" y="183.1" width="1" height="8.4" fill="#2e8b57"/>
<rect x="577" y="188.0" width="5" height="3.5" fill="#2e8b57"/>
<rect x="585" y="171.1" width="1" height="36.8" fill="#2e8b57"/>
<rect x="583" y="185.2" width="5" height="3.6" fill="#2e8b57"/>
<rect x="591" y="166.1" width="1" height="21.7" fill="#2e8b57"/>
<rect x="589" y="175.2" width="5" height="10.6" fill="#2e8b57"/>
<rect x="598" y="133.0" width="1" height="47.0" fill="#2e8b57"/>
<rect x="596" y="145.7" width="5" height="30.1" fill="#2e8b57"/>
<rect x="604" y="126.1" width="1" height="23.6" fill="#2e8b57"/>
<rect x="602" y="144.9" width="5" height="1.0" fill="#2e8b57"/>
<rect x="610" y="143.8" width="1" height="28.0" fill="#e60000"/>
<rect x="608" y="145.0" width="5" height="13.9" fill="#e60000"/>
<rect x="616" y="154.1" width="1" height="32.8" fill="#e60000"/>
<rect x="614" y="158.2" width="5" height="23.4" fill="#e60000"/>
<rect x="622" y="173.0" width="1" height="8.6" fill="#2e8b57"/>
<rect x="620" y="176.2" width="5" height="5.4" fill="#2e8b57"/>
<rect x="628" y="174.1" width="1" height="15.7" fill="#e60000"/>
<rect x="626" y="176.2" width="5" height="8.6" fill="#e60000"/>
<rect x="635" y="167.1" width="1" height="42.6" fill="#e60000"/>
<rect x="633" y="184.0" width="5" height="15.8" fill="#e60000"/>
<rect x="641" y="197.0" width="1" height="15.8" fill="#e60000"/>
<rect x="639" y="198.8" width="5" height="1.0" fill="#e60000"/>
<rect x="647" y="189.1" width="1" height="36.8" fill="#e60000"/>
<rect x="645" y="200.1" width="5" height="19.7" fill="#e60000"/>
<rect x="653" y="194.1" width="1" height="33.8" fill="#e60000"/>
<rect x="651" y="219.0" width="5" height="1.0" fill="#e60000"/>
<rect x="659" y="191.0" width="1" height="31.8" fill="#2e8b57"/>
<rect x="657" y="197.0" width="5" height="23.8" fill="#2e8b57"/>
<rect x="665" y="195.2" width="1" height="4.0" fill="#e60000"/>
<rect x="663" y="197.0" width="5" height="1.0" fill="#e60000"/>
<rect x="672" y="192.0" width="1" height="9.7" fill="#2e8b57"/>
<rect x="670" y="194.1" width="5" height="3.7" fill="#2e8b57"/>
<rect x="678" y="182.1" width="1" height="16.8" fill="#2e8b57"/>
<rect x="676" y="192.2" width="5" height="2.6" fill="#2e8b57"/>
<rect x="684" y="187.9" width="1" height="21.1" fill="#e60000"/>
<rect x="682" y="192.0" width="5" height="7.8" fill="#e60000"/>
<rect x="690" y="197.0" width="1" height="13.9" fill="#e60000"/>
<rect x="688" y="199.3" width="5" height="3.4" fill="#e60000"/>
<rect x="696" y="198.0" width="1" height="11.9" fill="#e60000"/>
<rect x="694" y="202.1" width="5" height="6.9" fill="#e60000"/>
<rect x="702" y="195.1" width="1" height="14.8" fill="#2e8b57"/>
<rect x="700" y="205.2" width="5" height="3.8" fill="#2e8b57"/>
<rect x="709" y="200.2" width="1" height="5.7" fill="#2e8b57"/>
<rect x="707" y="202.1" width="5" height="3.8" fill="#2e8b57"/>
<rect x="715" y="200.2" width="1" height="4.6" fill="#2e8b57"/>
<rect x="713" y="201.4" width="5" height="1.0" fill="#2e8b57"/>
<rect x="721" y="185.0" width="1" height="22.7" fill="#e60000"/>
<rect x="719" y="201.4" width="5" height="2.6" fill="#e60000"/>
<rect x="727" y="192.0" width="1" height="13.9" fill="#2e8b57"/>
<rect x="725" y="198.3" width="5" height="5.7" fill="#2e8b57"/>
<rect x="733" y="190.1" width="1" height="9.7" fill="#e60000"/>
<rect x="731" y="198.1" width="5" height="1.0" fill="#e60000"/>
<rect x="739" y="192.0" width="1" height="6.9" fill="#2e8b57"/>
<rect x="737" y="193.2" width="5" height="5.7" fill="#2e8b57"/>
<rect x="746" y="170.9" width="1" height="24.0" fill="#2e8b57"/>
<rect x="744" y="175.3" width="5" height="18.6" fill="#2e8b57"/>
<rect x="752" y="173.0" width="1" height="8.9" fill="#2e8b57"/>
<rect x="750" y="175.5" width="5" height="1.0" fill="#2e8b57"/>
<rect x="758" y="168.0" width="1" height="7.9" fill="#2e8b57"/>
<rect x="756" y="172.4" width="5" height="3.5" fill="#2e8b57"/>
<rect x="764" y="154.1" width="1" height="18.7" fill="#2e8b57"/>
<rect x="762" y="160.2" width="5" height="12.6" fill="#2e8b57"/>
<rect x="770" y="146.9" width="1" height="19.0" fill="#2e8b57"/>
<rect x="768" y="148.8" width="5" height="11.9" fill="#2e8b57"/>
<rect x="777" y="148.8" width="1" height="25.5" fill="#e60000"/>
<rect x="775" y="148.8" width="5" height="19.8" fill="#e60000"/>
<rect x="783" y="166.1" width="1" height="19.8" fill="#e60000"/>
<rect x="781" y="168.0" width="5" height="10.7" fill="#e60000"/>
<rect x="789" y="170.9" width="1" height="13.8" fill="#e60000"/>
<rect x="787" y="178.1" width="5" height="2.5" fill="#e60000"/>
<rect x="795" y="178.1" width="1" height="3.8" fill="#e60000"/>
<rect x="793" y="179.8" width="5" height="1.0" fill="#e60000"/>
<rect x="801" y="172.0" width="1" height="9.6" fill="#2e8b57"/>
<rect x="799" y="174.9" width="5" height="6.7" fill="#2e8b57"/>
<rect x="807" y="168.0" width="1" height="15.8" fill="#e60000"/>
<rect x="805" y="174.9" width="5" height="4.7" fill="#e60000"/>
<rect x="814" y="138.1" width="1" height="41.5" fill="#2e8b57"/>
<rect x="812" y="143.8" width="5" height="35.8" fill="#2e8b57"/>
<rect x="820" y="132.8" width="1" height="17.8" fill="#2e8b57"/>
<rect x="818" y="140.1" width="5" height="4.8" fill="#2e8b57"/>
<rect x="826" y="136.1" width="1" height="15.4" fill="#e60000"/>
<rect x="824" y="140.1" width="5" height="5.4" fill="#e60000"/>
<rect x="832" y="143.9" width="1" height="10.8" fill="#e60000"/>
<rect x="830" y="145.2" width="5" height="4.4" fill="#e60000"/>
<rect x="838" y="143.9" width="1" height="7.0" fill="#2e8b57"/>
<rect x="836" y="147.1" width="5" height="2.8" fill="#2e8b57"/>
<rect x="844" y="138.0" width="1" height="13.5" fill="#e60000"/>
<rect x="842" y="147.1" width="5" height="4.4" fill="#e60000"/>
<rect x="851" y="151.1" width="1" height="17.4" fill="#e60000"/>
<rect x="849" y="151.1" width="5" height="14.5" fill="#e60000"/>
<rect x="857" y="162.9" width="1" height="42.9" fill="#e60000"/>
<rect x="855" y="165.1" width="5" height="38.8" fill="#e60000"/>
<rect x="863" y="183.0" width="1" height="30.7" fill="#2e8b57"/>
<rect x="861" y="197.2" width="5" height="6.7" fill="#2e8b57"/>
<rect x="869" y="188.1" width="1" height="19.5" fill="#e60000"/>
<rect x="867" y="197.2" width="5" height="4.5" fill="#e60000"/>
<rect x="875" y="191.0" width="1" height="18.8" fill="#2e8b57"/>
<rect x="873" y="200.9" width="5" height="1.0" fill="#2e8b57"/>
<rect x="881" y="197.9" width="1" height="3.8" fill="#e60000"/>
<rect x="879" y="200.9" width="5" height="1.0" fill="#e60000"/>
<rect x="888" y="200.1" width="1" height="25.6" fill="#e60000"/>
<rect x="886" y="200.7" width="5" height="22.0" fill="#e60000"/>
<rect x="894" y="201.1" width="1" height="21.6" fill="#2e8b57"/>
<rect x="892" y="204.2" width="5" height="18.5" fill="#2e8b57"/>
<rect x="900" y="189.1" width="1" height="19.8" fill="#2e8b57"/>
<rect x="898" y="190.0" width="5" height="14.7" fill="#2e8b57"/>
<rect x="906" y="187.1" width="1" height="8.6" fill="#e60000"/>
<rect x="904" y="190.0" width="5" height="2.5" fill="#e60000"/>
<rect x="912" y="192.1" width="1" height="38.7" fill="#e60000"/>
<rect x="910" y="192.1" width="5" height="29.7" fill="#e60000"/>
<rect x="919" y="220.0" width="1" height="28.8" fill="#e60000"/>
<rect x="917" y="221.1" width="5" height="17.6" fill="#e60000"/>
<rect x="925" y="237.1" width="1" height="70.6" fill="#e60000"/>
<rect x="923" y="238.0" width="5" height="39.7" fill="#e60000"/>
<rect x="931" y="273.0" width="1" height="38.8" fill="#e60000"/>
<rect x="929" y="277.1" width="5" height="28.6" fill="#e60000"/>
<rect x="937" y="286.3" width="1" height="35.5" fill="#2e8b57"/>
<rect x="935" y="293.2" width="5" height="12.5" fill="#2e8b57"/>
<rect x="943" y="291.0" width="1" height="37.9" fill="#e60000"/>
<rect x="941" y="293.1" width="5" height="17.6" fill="#e60000"/>
<rect x="949" y="301.1" width="1" height="32.8" fill="#e60000"/>
<rect x="947" y="310.2" width="5" height="13.9" fill="#e60000"/>
<rect x="956" y="319.0" width="1" height="53.9" fill="#e60000"/>
<rect x="954" y="323.1" width="5" height="49.8" fill="#e60000"/>
<rect x="962" y="332.3" width="1" height="51.7" fill="#2e8b57"/>
<rect x="960" y="336.3" width="5" height="36.6" fill="#2e8b57"/>
<rect x="968" y="327.0" width="1" height="19.8" fill="#2e8b57"/>
<rect x="966" y="333.3" width="5" height="3.6" fill="#2e8b57"/>
<rect x="974" y="323.1" width="1" height="13.0" fill="#2e8b57"/>
<rect x="972" y="332.5" width="5" height="1.0" fill="#2e8b57"/>
<rect x="980" y="323.1" width="1" height="20.9" fill="#2e8b57"/>
<rect x="978" y="330.1" width="5" height="3.1" fill="#2e8b57"/>
<rect x="986" y="327.0" width="1" height="20.0" fill="#e60000"/>
<rect x="984" y="330.1" width="5" height="12.9" fill="#e60000"/>
<rect x="993" y="340.9" width="1" height="20.0" fill="#e60000"/>
<rect x="991" y="341.7" width="5" height="14.2" fill="#e60000"/>
<rect x="999" y="346.2" width="1" height="14.7" fill="#2e8b57"/>
<rect x="997" y="354.6" width="5" height="1.0" fill="#2e8b57"/>
<rect x="1005" y="335.0" width="1" height="21.9" fill="#2e8b57"/>
<rect x="1003" y="338.2" width="5" height="16.8" fill="#2e8b57"/>
<rect x="1011" y="329.1" width="1" height="9.7" fill="#2e8b57"/>
<rect x="1009" y="333.3" width="5" height="5.5" fill="#2e8b57"/>
<rect x="1017" y="330.1" width="1" height="26.8" fill="#e60000"/>
<rect x="1015" y="333.3" width="5" height="18.5" fill="#e60000"/>
<rect x="1023" y="342.0" width="1" height="12.6" fill="#2e8b57"/>
<rect x="1021" y="346.4" width="5" height="5.4" fill="#2e8b57"/>
<rect x="1030" y="343.0" width="1" height="12.0" fill="#e60000"/>
<rect x="1028" y="346.6" width="5" height="1.0" fill="#e60000"/>
<rect x="1036" y="340.1" width="1" height="16.8" fill="#e60000"/>
<rect x="1034" y="347.2" width="5" height="6.5" fill="#e60000"/>
<rect x="1042" y="348.0" width="1" height="11.8" fill="#e60000"/>
<rect x="1040" y="353.6" width="5" height="1.0" fill="#e60000"/>
<rect x="1048" y="349.1" width="1" height="8.8" fill="#2e8b57"/>
<rect x="1046" y="351.2" width="5" height="3.4" fill="#2e8b57"/>
<rect x="1054" y="346.2" width="1" height="6.6" fill="#2e8b57"/>
<rect x="1052" y="349.8" width="5" height="1.0" fill="#2e8b57"/>
<rect x="1061" y="348.0" width="1" height="7.9" fill="#e60000"/>
<rect x="1059" y="350.2" width="5" height="2.5" fill="#e60000"/>
<rect x="1067" y="352.1" width="1" height="18.7" fill="#e60000"/>
<rect x="1065" y="352.1" width="5" height="16.8" fill="#e60000"/>
<rect x="1073" y="366.1" width="1" height="9.7" fill="#e60000"/>
<rect x="1071" y="368.1" width="5" height="1.0" fill="#e60000"/>
<rect x="1079" y="323.1" width="1" height="45.8" fill="#2e8b57"/>
<rect x="1077" y="337.1" width="5" height="31.8" fill="#2e8b57"/>
<rect x="1085" y="333.2" width="1" height="16.7" fill="#e60000"/>
<rect x="1083" y="337.1" width="5" height="5.6" fill="#e60000"/>
<rect x="1091" y="336.1" width="1" height="26.8" fill="#e60000"/>
<rect x="1089" y="342.0" width="5" height="14.9" fill="#e60000"/>
<rect x="1098" y="348.0" width="1" height="22.8" fill="#2e8b57"/>
<rect x="1096" y="351.2" width="5" height="5.7" fill="#2e8b57"/>
<rect x="1104" y="337.1" width="1" height="22.7" fill="#e60000"/>
<rect x="1102" y="351.2" width="5" height="4.7" fill="#e60000"/>
<rect x="1110" y="332.3" width="1" height="25.6" fill="#2e8b57"/>
<rect x="1108" y="342.0" width="5" height="13.9" fill="#2e8b57"/>
<rect x="1116" y="340.1" width="1" height="16.8" fill="#e60000"/>
<rect x="1114" y="342.0" width="5" height="6.7" fill="#e60000"/>
<rect x="1122" y="316.1" width="1" height="37.9" fill="#2e8b57"/>
<rect x="1120" y="326.0" width="5" height="22.7" fill="#2e8b57"/>
<rect x="1128" y="321.2" width="1" height="15.7" fill="#e60000"/>
<rect x="1126" y="326.0" width="5" height="9.7" fill="#e60000"/>
<rect x="1135" y="332.3" width="1" height="19.5" fill="#e60000"/>
<rect x="1133" y="335.0" width="5" height="14.9" fill="#e60000"/>
<rect x="1141" y="346.2" width="1" height="7.6" fill="#e60000"/>
<rect x="1139" y="348.9" width="5" height="1.4" fill="#e60000"/>
<rect x="1147" y="349.0" width="1" height="9.7" fill="#e60000"/>
<rect x="1145" y="349.9" width="5" height="5.8" fill="#e60000"/>
<rect x="1153" y="338.1" width="1" height="17.7" fill="#2e8b57"/>
<rect x="1151" y="347.0" width="5" height="8.8" fill="#2e8b57"/>
<rect x="1159" y="332.1" width="1" height="15.5" fill="#2e8b57"/>
<rect x="1157" y="340.0" width="5" height="7.6" fill="#2e8b57"/>
<rect x="1165" y="333.1" width="1" height="11.6" fill="#2e8b57"/>
<rect x="1163" y="338.1" width="5" height="2.8" fill="#2e8b57"/>
<rect x="1172" y="331.2" width="1" height="11.7" fill="#2e8b57"/>
<rect x="1170" y="335.0" width="5" height="3.8" fill="#2e8b57"/>
<rect x="1178" y="314.2" width="1" height="21.7" fill="#2e8b57"/>
<rect x="1176" y="332.1" width="5" height="3.8" fill="#2e8b57"/>
<rect x="1184" y="329.9" width="1" height="6.0" fill="#2e8b57"/>
<rect x="1182" y="331.1" width="5" height="1.0" fill="#2e8b57"/>
<rect x="1190" y="315.0" width="1" height="17.8" fill="#2e8b57"/>
<rect x="1188" y="319.2" width="5" height="12.9" fill="#2e8b57"/>
<rect x="1196" y="287.0" width="1" height="33.9" fill="#2e8b57"/>
<rect x="1194" y="292.1" width="5" height="28.0" fill="#2e8b57"/>
<rect x="1202" y="288.9" width="1" height="11.8" fill="#e60000"/>
<rect x="1200" y="292.1" width="5" height="6.7" fill="#e60000"/>
<rect x="1209" y="293.1" width="1" height="29.6" fill="#e60000"/>
<rect x="1207" y="298.0" width="5" height="17.7" fill="#e60000"/>
<rect x="1215" y="310.1" width="1" height="20.7" fill="#e60000"/>
<rect x="1213" y="315.0" width="5" height="10.8" fill="#e60000"/>
<rect x="1221" y="319.2" width="1" height="8.6" fill="#2e8b57"/>
<rect x="1219" y="324.1" width="5" height="1.0" fill="#2e8b57"/>
<rect x="1227" y="320.1" width="1" height="14.9" fill="#e60000"/>
<rect x="1225" y="324.0" width="5" height="10.0" fill="#e60000"/>
<rect x="1233" y="326.2" width="1" height="15.7" fill="#e60000"/>
<rect x="1231" y="333.1" width="5" height="5.7" fill="#e60000"/>
<rect x="1240" y="316.3" width="1" height="25.6" fill="#2e8b57"/>
<rect x="1238" y="323.0" width="5" height="15.8" fill="#2e8b57"/>
<rect x="1246" y="319.2" width="1" height="10.7" fill="#2e8b57"/>
<rect x="1244" y="322.0" width="5" height="1.0" fill="#2e8b57"/>
<rect x="1252" y="316.1" width="1" height="7.8" fill="#2e8b57"/>
<rect x="1250" y="320.1" width="5" height="2.9" fill="#2e8b57"/>
<rect x="1258" y="320.1" width="1" height="20.8" fill="#e60000"/>
<rect x="1256" y="320.1" width="5" height="17.8" fill="#e60000"/>
<rect x="1264" y="334.1" width="1" height="15.8" fill="#e60000"/>
<rect x="1262" y="337.1" width="5" height="10.9" fill="#e60000"/>
<rect x="1270" y="339.0" width="1" height="8.6" fill="#2e8b57"/>
<rect x="1268" y="346.8" width="5" height="1.0" fill="#2e8b57"/>
<rect x="1277" y="342.9" width="1" height="11.9" fill="#e60000"/>
<rect x="1275" y="347.6" width="5" height="1.0" fill="#e60000"/>
<rect x="1283" y="333.1" width="1" height="15.8" fill="#2e8b57"/>
<rect x="1281" y="342.2" width="5" height="6.7" fill="#2e8b57"/>
<rect x="1289" y="327.2" width="1" height="16.6" fill="#2e8b57"/>
<rect x="1287" y="330.2" width="5" height="12.7" fill="#2e8b57"/>
<rect x="1295" y="320.1" width="1" height="12.7" fill="#2e8b57"/>
<rect x="1293" y="324.0" width="5" height="6.8" fill="#2e8b57"/>
<rect x="1301" y="322.0" width="1" height="20.9" fill="#e60000"/>
<rect x="1299" y="324.0" width="5" height="13.9" fill="#e60000"/>
<rect x="1307" y="333.1" width="1" height="6.9" fill="#e60000"/>
<rect x="1305" y="336.7" width="5" height="1.0" fill="#e60000"/>
<rect x="1314" y="333.1" width="1" height="5.7" fill="#2e8b57"/>
<rect x="1312" y="335.9" width="5" height="2.9" fill="#2e8b57"/>
<rect x="1320" y="327.0" width="1" height="15.9" fill="#2e8b57"/>
<rect x="1318" y="328.9" width="5" height="8.0" fill="#2e8b57"/>
<rect x="1326" y="319.2" width="1" height="13.6" fill="#e60000"/>
<rect x="1324" y="328.9" width="5" height="1.0" fill="#e60000"/>
<rect x="1332" y="304.1" width="1" height="32.8" fill="#2e8b57"/>
<rect x="1330" y="309.1" width="5" height="21.7" fill="#2e8b57"/>
<rect x="1338" y="305.3" width="1" height="12.4" fill="#e60000"/>
<rect x="1336" y="309.1" width="5" height="8.6" fill="#e60000"/>
<rect x="1344" y="307.9" width="1" height="14.1" fill="#2e8b57"/>
<rect x="1342" y="317.0" width="5" height="1.0" fill="#2e8b57"/>
<rect x="1351" y="306.9" width="1" height="12.1" fill="#2e8b57"/>
<rect x="1349" y="309.0" width="5" height="8.9" fill="#2e8b57"/>
<rect x="1357" y="296.1" width="1" height="15.1" fill="#2e8b57"/>
<rect x="1355" y="302.9" width="5" height="6.7" fill="#2e8b57"/>
<rect x="1363" y="302.0" width="1" height="17.0" fill="#e60000"/>
<rect x="1361" y="302.9" width="5" height="15.0" fill="#e60000"/>
<rect x="1369" y="285.9" width="1" height="33.1" fill="#2e8b57"/>
<rect x="1367" y="290.0" width="5" height="27.9" fill="#2e8b57"/>
<rect x="1375" y="283.0" width="1" height="16.9" fill="#e60000"/>
<rect x="1373" y="290.0" width="5" height="7.6" fill="#e60000"/>
<rect x="1382" y="287.1" width="1" height="12.0" fill="#2e8b57"/>
<rect x="1380" y="291.2" width="5" height="6.7" fill="#2e8b57"/>
<rect x="1388" y="290.0" width="1" height="12.0" fill="#e60000"/>
<rect x="1386" y="291.2" width="5" height="2.6" fill="#e60000"/>
<rect x="1394" y="275.0" width="1" height="22.9" fill="#2e8b57"/>
<rect x="1392" y="282.0" width="5" height="11.8" fill="#2e8b57"/>
<rect x="1400" y="281.1" width="1" height="12.7" fill="#e60000"/>
<rect x="1398" y="282.0" width="5" height="11.8" fill="#e60000"/>
<rect x="1406" y="292.0" width="1" height="14.7" fill="#e60000"/>
<rect x="1404" y="292.8" width="5" height="13.9" fill="#e60000"/>
<rect x="1412" y="301.1" width="1" height="5.6" fill="#2e8b57"/>
<rect x="1410" y="302.9" width="5" height="3.8" fill="#2e8b57"/>
</g>
</g>
<line x1="1" y1="303.5" x2="1823" y2="303.5" stroke="#2e8b57" stroke-width="1" stroke-dasharray="1 2" shape-rendering="crispEdges"/>
<line x1="1" y1="578.5" x2="1823" y2="578.5" stroke="#737687" stroke-width="1" stroke-dasharray="5 6" shape-rendering="crispEdges"/>
<line x1="1" y1="624.5" x2="1823" y2="624.5" stroke="#737687" stroke-width="1" stroke-dasharray="5 6" shape-rendering="crispEdges"/>
<line x1="1" y1="670.5" x2="1823" y2="670.5" stroke="#737687" stroke-width="1" stroke-dasharray="5 6" shape-rendering="crispEdges"/>
<text x="9.40" y="581.80" font-size="12" fill="#3d404a" text-anchor="start" textLength="41.09" lengthAdjust="spacingAndGlyphs" stroke="#3d404a" stroke-width="0.1">RSI (14)</text>
<text x="57.70" y="581.80" font-size="12" fill="#7e57c2" text-anchor="start" textLength="29.56" lengthAdjust="spacingAndGlyphs" stroke="#7e57c2" stroke-width="0.1">54.05</text>
<clipPath id="cr"><rect x="2" y="563" width="1821" height="146"/></clipPath><g clip-path="url(#cr)">
<polyline points="-1.0,616.3 5.0,624.2 11.0,623.5 17.0,625.9 23.0,623.5 30.0,623.4 36.0,623.0 42.0,619.2 48.0,609.1 54.0,591.1 60.0,596.6 67.0,602.9 73.0,611.3 79.0,613.8 85.0,605.9 91.0,606.2 97.0,619.7 104.0,618.5 110.0,623.0 116.0,645.8 122.0,648.3 128.0,649.5 135.0,668.5 141.0,650.3 147.0,651.3 153.0,637.7 159.0,630.3 165.0,636.5 172.0,618.0 178.0,607.1 184.0,605.0 190.0,607.9 196.0,605.4 202.0,592.8 209.0,616.8 215.0,610.8 221.0,624.7 227.0,657.2 233.0,660.6 239.0,631.5 246.0,626.4 252.0,633.6 258.0,640.7 264.0,644.9 270.0,647.8 276.0,643.2 283.0,636.5 289.0,636.5 295.0,642.9 301.0,646.9 307.0,641.5 314.0,635.3 320.0,633.5 326.0,616.8 332.0,620.2 338.0,631.8 344.0,637.7 351.0,643.7 357.0,639.5 363.0,636.8 369.0,633.6 375.0,655.8 381.0,671.3 388.0,658.0 394.0,663.4 400.0,652.1 406.0,654.2 412.0,638.2 418.0,639.4 425.0,648.3 431.0,648.8 437.0,659.2 443.0,665.4 449.0,659.7 456.0,663.4 462.0,666.8 468.0,656.7 474.0,662.6 480.0,672.2 486.0,675.5 493.0,674.7 499.0,670.7 505.0,652.5 511.0,651.6 517.0,644.1 523.0,645.2 530.0,643.2 536.0,646.9 542.0,646.6 548.0,662.6 554.0,637.3 560.0,619.2 567.0,624.2 573.0,634.0 579.0,632.0 585.0,629.8 591.0,623.0 598.0,605.4 604.0,605.0 610.0,615.0 616.0,630.3 622.0,627.2 628.0,633.1 635.0,641.2 641.0,641.5 647.0,652.1 653.0,652.8 659.0,633.6 665.0,633.6 672.0,630.6 678.0,629.8 684.0,634.8 690.0,637.7 696.0,642.4 702.0,638.2 709.0,634.8 715.0,634.3 721.0,636.5 727.0,629.8 733.0,630.3 739.0,623.0 746.0,603.7 752.0,603.2 758.0,600.3 764.0,589.4 770.0,580.5 777.0,607.1 783.0,618.0 789.0,621.0 795.0,621.4 801.0,615.1 807.0,620.2 814.0,589.7 820.0,586.4 826.0,593.3 832.0,597.8 838.0,596.1 844.0,601.7 851.0,619.2 857.0,651.6 863.0,645.2 869.0,648.3 875.0,647.4 881.0,647.9 888.0,662.6 894.0,643.2 900.0,629.4 906.0,631.4 912.0,651.3 919.0,661.4 925.0,677.7 931.0,686.1 937.0,675.7 943.0,681.1 949.0,684.9 956.0,696.4 962.0,669.8 968.0,667.3 974.0,666.8 980.0,665.1 986.0,669.4 993.0,673.7 999.0,673.1 1005.0,659.7 1011.0,655.1 1017.0,663.4 1023.0,659.2 1030.0,659.7 1036.0,662.2 1042.0,662.7 1048.0,659.7 1054.0,658.8 1061.0,660.2 1067.0,669.4 1073.0,669.8 1079.0,635.3 1085.0,639.0 1091.0,648.8 1098.0,643.7 1104.0,646.2 1110.0,633.1 1116.0,638.3 1122.0,619.0 1128.0,626.0 1135.0,636.5 1141.0,637.5 1147.0,641.5 1153.0,632.8 1159.0,626.5 1165.0,624.0 1172.0,621.0 1178.0,618.1 1184.0,617.3 1190.0,605.4 1196.0,585.2 1202.0,591.9 1209.0,611.3 1215.0,620.5 1221.0,619.3 1227.0,628.1 1233.0,632.6 1240.0,618.5 1246.0,617.5 1252.0,615.5 1258.0,632.3 1264.0,641.5 1270.0,641.2 1277.0,642.7 1283.0,634.0 1289.0,620.5 1295.0,615.1 1301.0,629.3 1307.0,629.8 1314.0,627.8 1320.0,619.3 1326.0,620.0 1332.0,598.6 1338.0,608.7 1344.0,608.7 1351.0,600.8 1357.0,594.8 1363.0,613.8 1369.0,591.1 1375.0,599.8 1382.0,595.3 1388.0,597.8 1394.0,589.4 1400.0,602.9 1406.0,617.5 1412.0,614.3" fill="none" stroke="#7e57c2" stroke-width="1.2" stroke-linejoin="round" stroke-linecap="round"/>
</g>
<text x="8.80" y="729.40" font-size="12" fill="#3d404a" text-anchor="start" textLength="125.35" lengthAdjust="spacingAndGlyphs" stroke="#3d404a" stroke-width="0.1">MACD (12, 26, close, 9)</text>
<text x="142.20" y="729.40" font-size="12" fill="#ace5dc" text-anchor="start" textLength="35.84" lengthAdjust="spacingAndGlyphs" stroke="#ace5dc" stroke-width="0.1">3.4672</text>
<text x="185.20" y="729.40" font-size="12" fill="#2196f3" text-anchor="start" textLength="42.13" lengthAdjust="spacingAndGlyphs" stroke="#2196f3" stroke-width="0.1">59.6451</text>
<text x="234.60" y="729.40" font-size="12" fill="#ff6d00" text-anchor="start" textLength="42.13" lengthAdjust="spacingAndGlyphs" stroke="#ff6d00" stroke-width="0.1">56.1779</text>
<g shape-rendering="crispEdges">
<rect x="3" y="762.0" width="5" height="11.0" fill="#ff5252"/>
<rect x="9" y="762.0" width="5" height="11.0" fill="#ffcdd2"/>
<rect x="15" y="762.0" width="5" height="11.0" fill="#ffcdd2"/>
<rect x="21" y="762.0" width="5" height="10.0" fill="#ffcdd2"/>
<rect x="27" y="762.0" width="6" height="10.0" fill="#ffcdd2"/>
<rect x="34" y="762.0" width="5" height="9.0" fill="#ffcdd2"/>
<rect x="40" y="762.0" width="5" height="8.0" fill="#ffcdd2"/>
<rect x="46" y="762.0" width="5" height="5.0" fill="#ffcdd2"/>
<rect x="52" y="762.0" width="5" height="1.0" fill="#26a69a"/>
<rect x="58" y="760.0" width="5" height="3.0" fill="#26a69a"/>
<rect x="64" y="759.0" width="6" height="4.0" fill="#26a69a"/>
<rect x="71" y="761.0" width="5" height="2.0" fill="#b2dfdb"/>
<rect x="77" y="761.0" width="5" height="2.0" fill="#b2dfdb"/>
<rect x="83" y="761.0" width="5" height="2.0" fill="#26a69a"/>
<rect x="89" y="761.0" width="5" height="2.0" fill="#b2dfdb"/>
<rect x="95" y="762.0" width="5" height="2.0" fill="#ff5252"/>
<rect x="101" y="762.0" width="6" height="3.0" fill="#ff5252"/>
<rect x="108" y="762.0" width="5" height="4.0" fill="#ff5252"/>
<rect x="114" y="762.0" width="5" height="7.0" fill="#ff5252"/>
<rect x="120" y="762.0" width="5" height="9.0" fill="#ff5252"/>
<rect x="126" y="762.0" width="5" height="11.0" fill="#ff5252"/>
<rect x="132" y="762.0" width="6" height="14.0" fill="#ff5252"/>
<rect x="139" y="762.0" width="5" height="13.0" fill="#ffcdd2"/>
<rect x="145" y="762.0" width="5" height="13.0" fill="#ffcdd2"/>
<rect x="151" y="762.0" width="5" height="11.0" fill="#ffcdd2"/>
<rect x="157" y="762.0" width="5" height="8.0" fill="#ffcdd2"/>
<rect x="163" y="762.0" width="5" height="6.0" fill="#ffcdd2"/>
<rect x="169" y="762.0" width="6" height="3.0" fill="#ffcdd2"/>
<rect x="176" y="760.0" width="5" height="3.0" fill="#26a69a"/>
<rect x="182" y="757.0" width="5" height="6.0" fill="#26a69a"/>
<rect x="188" y="756.0" width="5" height="7.0" fill="#26a69a"/>
<rect x="194" y="755.0" width="5" height="8.0" fill="#26a69a"/>
<rect x="200" y="753.0" width="5" height="10.0" fill="#26a69a"/>
<rect x="206" y="755.0" width="6" height="8.0" fill="#b2dfdb"/>
<rect x="213" y="755.0" width="5" height="8.0" fill="#b2dfdb"/>
<rect x="219" y="759.0" width="5" height="4.0" fill="#b2dfdb"/>
<rect x="225" y="762.0" width="5" height="5.0" fill="#ff5252"/>
<rect x="231" y="762.0" width="5" height="11.0" fill="#ff5252"/>
<rect x="237" y="762.0" width="5" height="9.0" fill="#ffcdd2"/>
<rect x="243" y="762.0" width="6" height="7.0" fill="#ffcdd2"/>
<rect x="250" y="762.0" width="5" height="6.0" fill="#ffcdd2"/>
<rect x="256" y="762.0" width="5" height="8.0" fill="#ff5252"/>
<rect x="262" y="762.0" width="5" height="9.0" fill="#ff5252"/>
<rect x="268" y="762.0" width="5" height="10.0" fill="#ff5252"/>
<rect x="274" y="762.0" width="5" height="9.0" fill="#ffcdd2"/>
<rect x="280" y="762.0" width="6" height="7.0" fill="#ffcdd2"/>
<rect x="287" y="762.0" width="5" height="5.0" fill="#ffcdd2"/>
<rect x="293" y="762.0" width="5" height="5.0" fill="#ffcdd2"/>
<rect x="299" y="762.0" width="5" height="6.0" fill="#ff5252"/>
<rect x="305" y="762.0" width="5" height="5.0" fill="#ffcdd2"/>
<rect x="311" y="762.0" width="6" height="3.0" fill="#ffcdd2"/>
<rect x="318" y="762.0" width="5" height="1.0" fill="#ffcdd2"/>
<rect x="324" y="759.0" width="5" height="4.0" fill="#26a69a"/>
<rect x="330" y="757.0" width="5" height="6.0" fill="#26a69a"/>
<rect x="336" y="758.0" width="5" height="5.0" fill="#b2dfdb"/>
<rect x="342" y="759.0" width="5" height="4.0" fill="#b2dfdb"/>
<rect x="348" y="761.0" width="6" height="2.0" fill="#b2dfdb"/>
<rect x="355" y="762.0" width="5" height="1.0" fill="#b2dfdb"/>
<rect x="361" y="762.0" width="5" height="1.0" fill="#b2dfdb"/>
<rect x="367" y="761.0" width="5" height="2.0" fill="#26a69a"/>
<rect x="373" y="762.0" width="5" height="3.0" fill="#ff5252"/>
<rect x="379" y="762.0" width="5" height="9.0" fill="#ff5252"/>
<rect x="385" y="762.0" width="6" height="10.0" fill="#ff5252"/>
<rect x="392" y="762.0" width="5" height="11.0" fill="#ff5252"/>
<rect x="398" y="762.0" width="5" height="10.0" fill="#ffcdd2"/>
<rect x="404" y="762.0" width="5" height="9.0" fill="#ffcdd2"/>
<rect x="410" y="762.0" width="5" height="5.0" fill="#ffcdd2"/>
<rect x="416" y="762.0" width="5" height="3.0" fill="#ffcdd2"/>
<rect x="422" y="762.0" width="6" height="3.0" fill="#ffcdd2"/>
<rect x="429" y="762.0" width="5" height="2.0" fill="#ffcdd2"/>
<rect x="435" y="762.0" width="5" height="4.0" fill="#ff5252"/>
<rect x="441" y="762.0" width="5" height="6.0" fill="#ff5252"/>
<rect x="447" y="762.0" width="5" height="6.0" fill="#ff5252"/>
<rect x="453" y="762.0" width="6" height="6.0" fill="#ff5252"/>
<rect x="460" y="762.0" width="5" height="7.0" fill="#ff5252"/>
<rect x="466" y="762.0" width="5" height="5.0" fill="#ffcdd2"/>
<rect x="472" y="762.0" width="5" height="5.0" fill="#ffcdd2"/>
<rect x="478" y="762.0" width="5" height="6.0" fill="#ff5252"/>
<rect x="484" y="762.0" width="5" height="7.0" fill="#ff5252"/>
<rect x="490" y="762.0" width="6" height="7.0" fill="#ffcdd2"/>
<rect x="497" y="762.0" width="5" height="6.0" fill="#ffcdd2"/>
<rect x="503" y="762.0" width="5" height="3.0" fill="#ffcdd2"/>
<rect x="509" y="762.0" width="5" height="1.0" fill="#26a69a"/>
<rect x="515" y="759.0" width="5" height="4.0" fill="#26a69a"/>
<rect x="521" y="757.0" width="5" height="6.0" fill="#26a69a"/>
<rect x="527" y="756.0" width="6" height="7.0" fill="#26a69a"/>
<rect x="534" y="755.0" width="5" height="8.0" fill="#26a69a"/>
<rect x="540" y="755.0" width="5" height="8.0" fill="#26a69a"/>
<rect x="546" y="757.0" width="5" height="6.0" fill="#b2dfdb"/>
<rect x="552" y="756.0" width="5" height="7.0" fill="#26a69a"/>
<rect x="558" y="753.0" width="5" height="10.0" fill="#26a69a"/>
<rect x="564" y="752.0" width="6" height="11.0" fill="#26a69a"/>
<rect x="571" y="753.0" width="5" height="10.0" fill="#b2dfdb"/>
<rect x="577" y="754.0" width="5" height="9.0" fill="#b2dfdb"/>
<rect x="583" y="754.0" width="5" height="9.0" fill="#b2dfdb"/>
<rect x="589" y="754.0" width="5" height="9.0" fill="#26a69a"/>
<rect x="595" y="752.0" width="6" height="11.0" fill="#26a69a"/>
<rect x="602" y="751.0" width="5" height="12.0" fill="#26a69a"/>
<rect x="608" y="752.0" width="5" height="11.0" fill="#b2dfdb"/>
<rect x="614" y="754.0" width="5" height="9.0" fill="#b2dfdb"/>
<rect x="620" y="756.0" width="5" height="7.0" fill="#b2dfdb"/>
<rect x="626" y="758.0" width="5" height="5.0" fill="#b2dfdb"/>
<rect x="632" y="760.0" width="6" height="3.0" fill="#b2dfdb"/>
<rect x="639" y="762.0" width="5" height="1.0" fill="#b2dfdb"/>
<rect x="645" y="762.0" width="5" height="3.0" fill="#ff5252"/>
<rect x="651" y="762.0" width="5" height="5.0" fill="#ff5252"/>
<rect x="657" y="762.0" width="5" height="4.0" fill="#ffcdd2"/>
<rect x="663" y="762.0" width="5" height="3.0" fill="#ffcdd2"/>
<rect x="669" y="762.0" width="6" height="2.0" fill="#ffcdd2"/>
<rect x="676" y="762.0" width="5" height="1.0" fill="#26a69a"/>
<rect x="682" y="762.0" width="5" height="1.0" fill="#26a69a"/>
<rect x="688" y="762.0" width="5" height="1.0" fill="#b2dfdb"/>
<rect x="694" y="762.0" width="5" height="1.0" fill="#ff5252"/>
<rect x="700" y="762.0" width="5" height="1.0" fill="#ffcdd2"/>
<rect x="706" y="762.0" width="6" height="1.0" fill="#26a69a"/>
<rect x="713" y="762.0" width="5" height="1.0" fill="#26a69a"/>
<rect x="719" y="761.0" width="5" height="2.0" fill="#26a69a"/>
<rect x="725" y="761.0" width="5" height="2.0" fill="#26a69a"/>
<rect x="731" y="761.0" width="5" height="2.0" fill="#26a69a"/>
<rect x="737" y="760.0" width="5" height="3.0" fill="#26a69a"/>
<rect x="743" y="758.0" width="6" height="5.0" fill="#26a69a"/>
<rect x="750" y="757.0" width="5" height="6.0" fill="#26a69a"/>
<rect x="756" y="757.0" width="5" height="6.0" fill="#26a69a"/>
<rect x="762" y="756.0" width="5" height="7.0" fill="#26a69a"/>
<rect x="768" y="754.0" width="5" height="9.0" fill="#26a69a"/>
<rect x="774" y="755.0" width="6" height="8.0" fill="#b2dfdb"/>
<rect x="781" y="757.0" width="5" height="6.0" fill="#b2dfdb"/>
<rect x="787" y="759.0" width="5" height="4.0" fill="#b2dfdb"/>
<rect x="793" y="760.0" width="5" height="3.0" fill="#b2dfdb"/>
<rect x="799" y="761.0" width="5" height="2.0" fill="#b2dfdb"/>
<rect x="805" y="761.0" width="5" height="2.0" fill="#b2dfdb"/>
<rect x="811" y="759.0" width="6" height="4.0" fill="#26a69a"/>
<rect x="818" y="758.0" width="5" height="5.0" fill="#26a69a"/>
<rect x="824" y="758.0" width="5" height="5.0" fill="#26a69a"/>
<rect x="830" y="758.0" width="5" height="5.0" fill="#b2dfdb"/>
<rect x="836" y="758.0" width="5" height="5.0" fill="#b2dfdb"/>
<rect x="842" y="759.0" width="5" height="4.0" fill="#b2dfdb"/>
<rect x="848" y="761.0" width="6" height="2.0" fill="#b2dfdb"/>
<rect x="855" y="762.0" width="5" height="4.0" fill="#ff5252"/>
<rect x="861" y="762.0" width="5" height="6.0" fill="#ff5252"/>
<rect x="867" y="762.0" width="5" height="8.0" fill="#ff5252"/>
<rect x="873" y="762.0" width="5" height="8.0" fill="#ff5252"/>
<rect x="879" y="762.0" width="5" height="8.0" fill="#ff5252"/>
<rect x="885" y="762.0" width="6" height="9.0" fill="#ff5252"/>
<rect x="892" y="762.0" width="5" height="8.0" fill="#ffcdd2"/>
<rect x="898" y="762.0" width="5" height="6.0" fill="#ffcdd2"/>
<rect x="904" y="762.0" width="5" height="4.0" fill="#ffcdd2"/>
<rect x="910" y="762.0" width="5" height="6.0" fill="#ff5252"/>
<rect x="916" y="762.0" width="6" height="8.0" fill="#ff5252"/>
<rect x="923" y="762.0" width="5" height="11.0" fill="#ff5252"/>
<rect x="929" y="762.0" width="5" height="15.0" fill="#ff5252"/>
<rect x="935" y="762.0" width="5" height="16.0" fill="#ff5252"/>
<rect x="941" y="762.0" width="5" height="16.0" fill="#ff5252"/>
<rect x="947" y="762.0" width="5" height="17.0" fill="#ff5252"/>
<rect x="953" y="762.0" width="6" height="20.0" fill="#ff5252"/>
<rect x="960" y="762.0" width="5" height="18.0" fill="#ffcdd2"/>
<rect x="966" y="762.0" width="5" height="15.0" fill="#ffcdd2"/>
<rect x="972" y="762.0" width="5" height="12.0" fill="#ffcdd2"/>
<rect x="978" y="762.0" width="5" height="9.0" fill="#ffcdd2"/>
<rect x="984" y="762.0" width="5" height="8.0" fill="#ffcdd2"/>
<rect x="990" y="762.0" width="6" height="7.0" fill="#ffcdd2"/>
<rect x="997" y="762.0" width="5" height="5.0" fill="#ffcdd2"/>
<rect x="1003" y="762.0" width="5" height="3.0" fill="#ffcdd2"/>
<rect x="1009" y="761.0" width="5" height="2.0" fill="#26a69a"/>
<rect x="1015" y="761.0" width="5" height="2.0" fill="#26a69a"/>
<rect x="1021" y="760.0" width="5" height="3.0" fill="#26a69a"/>
<rect x="1027" y="759.0" width="6" height="4.0" fill="#26a69a"/>
<rect x="1034" y="758.0" width="5" height="5.0" fill="#26a69a"/>
<rect x="1040" y="758.0" width="5" height="5.0" fill="#26a69a"/>
<rect x="1046" y="757.0" width="5" height="6.0" fill="#26a69a"/>
<rect x="1052" y="757.0" width="5" height="6.0" fill="#26a69a"/>
<rect x="1058" y="757.0" width="6" height="6.0" fill="#26a69a"/>
<rect x="1065" y="758.0" width="5" height="5.0" fill="#b2dfdb"/>
<rect x="1071" y="758.0" width="5" height="5.0" fill="#b2dfdb"/>
<rect x="1077" y="756.0" width="5" height="7.0" fill="#26a69a"/>
<rect x="1083" y="755.0" width="5" height="8.0" fill="#26a69a"/>
<rect x="1089" y="756.0" width="5" height="7.0" fill="#b2dfdb"/>
<rect x="1095" y="756.0" width="6" height="7.0" fill="#b2dfdb"/>
<rect x="1102" y="756.0" width="5" height="7.0" fill="#b2dfdb"/>
<rect x="1108" y="755.0" width="5" height="8.0" fill="#26a69a"/>
<rect x="1114" y="755.0" width="5" height="8.0" fill="#b2dfdb"/>
<rect x="1120" y="754.0" width="5" height="9.0" fill="#26a69a"/>
<rect x="1126" y="754.0" width="5" height="9.0" fill="#26a69a"/>
<rect x="1132" y="755.0" width="6" height="8.0" fill="#b2dfdb"/>
<rect x="1139" y="756.0" width="5" height="7.0" fill="#b2dfdb"/>
<rect x="1145" y="758.0" width="5" height="5.0" fill="#b2dfdb"/>
<rect x="1151" y="758.0" width="5" height="5.0" fill="#b2dfdb"/>
<rect x="1157" y="758.0" width="5" height="5.0" fill="#26a69a"/>
<rect x="1163" y="757.0" width="5" height="6.0" fill="#26a69a"/>
<rect x="1169" y="757.0" width="6" height="6.0" fill="#26a69a"/>
<rect x="1176" y="757.0" width="5" height="6.0" fill="#26a69a"/>
<rect x="1182" y="757.0" width="5" height="6.0" fill="#b2dfdb"/>
<rect x="1188" y="756.0" width="5" height="7.0" fill="#26a69a"/>
<rect x="1194" y="754.0" width="5" height="9.0" fill="#26a69a"/>
<rect x="1200" y="753.0" width="5" height="10.0" fill="#26a69a"/>
<rect x="1206" y="756.0" width="6" height="7.0" fill="#b2dfdb"/>
<rect x="1213" y="757.0" width="5" height="6.0" fill="#b2dfdb"/>
<rect x="1219" y="758.0" width="5" height="5.0" fill="#b2dfdb"/>
<rect x="1225" y="761.0" width="5" height="2.0" fill="#b2dfdb"/>
<rect x="1231" y="762.0" width="5" height="1.0" fill="#b2dfdb"/>
<rect x="1237" y="761.0" width="6" height="2.0" fill="#26a69a"/>
<rect x="1244" y="761.0" width="5" height="2.0" fill="#26a69a"/>
<rect x="1250" y="761.0" width="5" height="2.0" fill="#26a69a"/>
<rect x="1256" y="762.0" width="5" height="1.0" fill="#ff5252"/>
<rect x="1262" y="762.0" width="5" height="2.0" fill="#ff5252"/>
<rect x="1268" y="762.0" width="5" height="3.0" fill="#ff5252"/>
<rect x="1274" y="762.0" width="6" height="3.0" fill="#ff5252"/>
<rect x="1281" y="762.0" width="5" height="2.0" fill="#ffcdd2"/>
<rect x="1287" y="762.0" width="5" height="1.0" fill="#ffcdd2"/>
<rect x="1293" y="762.0" width="5" height="1.0" fill="#ffcdd2"/>
<rect x="1299" y="762.0" width="5" height="1.0" fill="#ff5252"/>
<rect x="1305" y="762.0" width="5" height="1.0" fill="#ff5252"/>
<rect x="1311" y="762.0" width="6" height="1.0" fill="#ffcdd2"/>
<rect x="1318" y="762.0" width="5" height="1.0" fill="#26a69a"/>
<rect x="1324" y="761.0" width="5" height="2.0" fill="#26a69a"/>
<rect x="1330" y="760.0" width="5" height="3.0" fill="#26a69a"/>
<rect x="1336" y="760.0" width="5" height="3.0" fill="#26a69a"/>
<rect x="1342" y="759.0" width="5" height="4.0" fill="#26a69a"/>
<rect x="1348" y="759.0" width="6" height="4.0" fill="#26a69a"/>
<rect x="1355" y="758.0" width="5" height="5.0" fill="#26a69a"/>
<rect x="1361" y="759.0" width="5" height="4.0" fill="#b2dfdb"/>
<rect x="1367" y="758.0" width="5" height="5.0" fill="#26a69a"/>
<rect x="1373" y="758.0" width="5" height="5.0" fill="#b2dfdb"/>
<rect x="1379" y="758.0" width="6" height="5.0" fill="#26a69a"/>
<rect x="1386" y="758.0" width="5" height="5.0" fill="#b2dfdb"/>
<rect x="1392" y="758.0" width="5" height="5.0" fill="#26a69a"/>
<rect x="1398" y="759.0" width="5" height="4.0" fill="#b2dfdb"/>
<rect x="1404" y="760.0" width="5" height="3.0" fill="#b2dfdb"/>
<rect x="1410" y="761.0" width="5" height="2.0" fill="#b2dfdb"/>
</g>
<clipPath id="cd"><rect x="2" y="711" width="1821" height="111"/></clipPath><g clip-path="url(#cd)">
<polyline points="-1.0,744.9 5.0,748.0 11.0,750.9 17.0,753.6 23.0,755.6 30.0,757.5 36.0,757.9 42.0,758.1 48.0,755.6 54.0,749.4 60.0,747.6 67.0,746.0 73.0,747.3 79.0,747.8 85.0,747.3 91.0,747.4 97.0,750.5 104.0,751.8 110.0,753.5 116.0,758.5 122.0,762.4 128.0,766.7 135.0,772.4 141.0,774.3 147.0,777.0 153.0,777.5 159.0,776.6 165.0,775.8 172.0,773.9 178.0,768.6 184.0,763.9 190.0,761.1 196.0,758.2 202.0,754.3 209.0,753.8 215.0,752.6 221.0,755.4 227.0,764.4 233.0,772.7 239.0,773.1 246.0,772.4 252.0,773.1 258.0,775.7 264.0,778.9 270.0,781.9 276.0,782.3 283.0,782.2 289.0,781.6 295.0,782.7 301.0,785.4 307.0,785.1 314.0,783.5 320.0,781.3 326.0,776.5 332.0,773.4 338.0,773.4 344.0,773.9 351.0,775.5 357.0,776.0 363.0,775.8 369.0,775.1 375.0,779.8 381.0,787.6 388.0,791.0 394.0,794.2 400.0,795.2 406.0,795.9 412.0,793.0 418.0,791.9 425.0,792.2 431.0,791.9 437.0,794.5 443.0,797.6 449.0,798.9 456.0,800.1 462.0,802.3 468.0,801.5 474.0,802.8 480.0,805.6 486.0,808.0 493.0,809.4 499.0,809.6 505.0,807.4 511.0,803.9 517.0,799.9 523.0,796.8 530.0,794.3 536.0,791.5 542.0,789.9 548.0,790.4 554.0,787.6 560.0,782.7 567.0,779.5 573.0,778.4 579.0,777.4 585.0,775.3 591.0,773.2 598.0,768.6 604.0,764.6 610.0,763.0 616.0,762.9 622.0,763.7 628.0,764.8 635.0,766.6 641.0,768.1 647.0,772.0 653.0,774.8 659.0,774.7 665.0,774.0 672.0,772.9 678.0,771.0 684.0,771.0 690.0,771.0 696.0,772.0 702.0,771.7 709.0,770.6 715.0,770.4 721.0,769.3 727.0,769.0 733.0,768.6 739.0,767.0 746.0,764.1 752.0,762.1 758.0,760.8 764.0,758.2 770.0,754.6 777.0,754.1 783.0,754.8 789.0,755.5 795.0,756.1 801.0,756.7 807.0,756.4 814.0,753.4 820.0,751.4 826.0,750.4 832.0,749.5 838.0,748.7 844.0,749.2 851.0,751.0 857.0,757.0 863.0,760.8 869.0,764.7 875.0,766.4 881.0,768.2 888.0,771.1 894.0,771.5 900.0,770.6 906.0,770.1 912.0,773.7 919.0,777.7 925.0,783.6 931.0,790.9 937.0,795.0 943.0,798.7 949.0,803.5 956.0,810.6 962.0,812.4 968.0,812.7 974.0,812.5 980.0,811.8 986.0,812.3 993.0,812.5 999.0,811.5 1005.0,810.0 1011.0,806.2 1017.0,805.9 1023.0,803.8 1030.0,802.0 1036.0,800.2 1042.0,799.0 1048.0,796.8 1054.0,795.6 1061.0,794.4 1067.0,794.2 1073.0,792.7 1079.0,789.2 1085.0,786.5 1091.0,785.9 1098.0,784.3 1104.0,782.8 1110.0,780.2 1116.0,778.4 1122.0,775.6 1128.0,773.8 1135.0,773.2 1141.0,772.8 1147.0,773.5 1153.0,772.2 1159.0,770.9 1165.0,768.6 1172.0,767.4 1178.0,766.3 1184.0,764.6 1190.0,761.9 1196.0,758.2 1202.0,755.1 1209.0,756.0 1215.0,755.3 1221.0,755.7 1227.0,758.1 1233.0,758.7 1240.0,757.6 1246.0,757.5 1252.0,757.6 1258.0,760.7 1264.0,762.4 1270.0,764.2 1277.0,764.6 1283.0,764.4 1289.0,763.8 1295.0,763.3 1301.0,763.8 1307.0,764.0 1314.0,763.6 1320.0,762.5 1326.0,762.0 1332.0,760.2 1338.0,759.2 1344.0,757.6 1351.0,756.8 1357.0,754.8 1363.0,754.5 1369.0,752.5 1375.0,751.5 1382.0,750.5 1388.0,749.6 1394.0,748.8 1400.0,749.2 1406.0,749.6 1412.0,750.4" fill="none" stroke="#2196f3" stroke-width="1.2" stroke-linejoin="round" stroke-linecap="round"/>
<polyline points="-1.0,734.9 5.0,737.4 11.0,740.3 17.0,743.0 23.0,745.5 30.0,747.7 36.0,749.3 42.0,750.5 48.0,750.9 54.0,750.1 60.0,749.6 67.0,749.2 73.0,749.0 79.0,748.8 85.0,748.6 91.0,748.4 97.0,748.8 104.0,749.3 110.0,750.0 116.0,751.8 122.0,753.8 128.0,756.1 135.0,758.8 141.0,761.7 147.0,764.4 153.0,766.9 159.0,769.0 165.0,770.2 172.0,771.4 178.0,770.6 184.0,768.9 190.0,767.2 196.0,765.3 202.0,763.4 209.0,761.5 215.0,759.7 221.0,759.1 227.0,759.7 233.0,762.1 239.0,764.2 246.0,765.7 252.0,767.0 258.0,768.5 264.0,770.0 270.0,771.8 276.0,773.9 283.0,775.5 289.0,776.9 295.0,778.3 301.0,779.8 307.0,780.7 314.0,780.8 320.0,780.5 326.0,779.7 332.0,778.4 338.0,777.4 344.0,776.8 351.0,776.5 357.0,776.5 363.0,776.3 369.0,776.3 375.0,777.3 381.0,779.0 388.0,781.2 394.0,783.6 400.0,785.8 406.0,787.5 412.0,788.6 418.0,789.2 425.0,789.7 431.0,790.2 437.0,791.0 443.0,792.0 449.0,793.3 456.0,794.5 462.0,795.9 468.0,797.1 474.0,798.4 480.0,800.0 486.0,801.6 493.0,803.0 499.0,804.0 505.0,804.7 511.0,804.4 517.0,803.1 523.0,801.8 530.0,800.4 536.0,798.6 542.0,797.0 548.0,795.4 554.0,793.7 560.0,791.8 567.0,789.6 573.0,787.5 579.0,785.5 585.0,783.4 591.0,781.3 598.0,778.7 604.0,775.7 610.0,773.1 616.0,771.0 622.0,769.8 628.0,769.0 635.0,768.6 641.0,768.6 647.0,769.5 653.0,770.4 659.0,771.2 665.0,771.5 672.0,771.6 678.0,771.5 684.0,771.5 690.0,771.4 696.0,771.4 702.0,771.3 709.0,771.1 715.0,770.9 721.0,770.5 727.0,770.2 733.0,769.8 739.0,769.2 746.0,768.3 752.0,767.1 758.0,765.8 764.0,764.3 770.0,762.7 777.0,761.2 783.0,759.8 789.0,758.7 795.0,758.3 801.0,757.9 807.0,757.6 814.0,756.6 820.0,755.6 826.0,754.6 832.0,753.7 838.0,752.9 844.0,752.4 851.0,752.2 857.0,753.5 863.0,755.2 869.0,757.1 875.0,758.8 881.0,760.6 888.0,762.5 894.0,763.9 900.0,765.0 906.0,766.6 912.0,768.1 919.0,770.1 925.0,773.0 931.0,776.1 937.0,779.4 943.0,783.1 949.0,787.0 956.0,791.1 962.0,794.7 968.0,797.9 974.0,800.7 980.0,802.9 986.0,804.7 993.0,806.1 999.0,807.1 1005.0,807.5 1011.0,807.4 1017.0,806.9 1023.0,806.0 1030.0,805.2 1036.0,804.4 1042.0,803.2 1048.0,802.0 1054.0,800.8 1061.0,799.6 1067.0,798.4 1073.0,796.9 1079.0,795.3 1085.0,793.6 1091.0,792.0 1098.0,790.4 1104.0,788.9 1110.0,787.3 1116.0,785.5 1122.0,783.7 1128.0,781.9 1135.0,780.3 1141.0,778.9 1147.0,777.7 1153.0,776.4 1159.0,775.1 1165.0,773.8 1172.0,772.6 1178.0,771.5 1184.0,769.8 1190.0,768.0 1196.0,766.3 1202.0,764.5 1209.0,762.4 1215.0,760.9 1221.0,760.1 1227.0,759.6 1233.0,759.3 1240.0,759.0 1246.0,758.9 1252.0,759.0 1258.0,759.7 1264.0,760.3 1270.0,761.1 1277.0,762.0 1283.0,762.6 1289.0,762.8 1295.0,762.9 1301.0,763.0 1307.0,763.2 1314.0,763.2 1320.0,763.1 1326.0,762.8 1332.0,762.3 1338.0,761.8 1344.0,761.2 1351.0,760.4 1357.0,759.3 1363.0,758.1 1369.0,757.0 1375.0,756.0 1382.0,755.0 1388.0,754.1 1394.0,753.3 1400.0,752.5 1406.0,752.1 1412.0,751.9" fill="none" stroke="#ff6d00" stroke-width="1.2" stroke-linejoin="round" stroke-linecap="round"/>
</g>
<rect x="1823" y="2" width="77" height="847" fill="#fff"/>
<clipPath id="c600"><rect x="1823" y="540" width="77" height="22"/></clipPath>
<text x="1831.30" y="562.80" font-size="12" fill="#3d404a" text-anchor="start" textLength="48.42" lengthAdjust="spacingAndGlyphs" clip-path="url(#c600)" stroke="#3d404a" stroke-width="0.1">600.0000</text>
<text x="1831.30" y="532.80" font-size="12" fill="#3d404a" text-anchor="start" textLength="48.42" lengthAdjust="spacingAndGlyphs" stroke="#3d404a" stroke-width="0.1">800.0000</text>
<text x="1831.30" y="501.20" font-size="12" fill="#3d404a" text-anchor="start" textLength="59.11" lengthAdjust="spacingAndGlyphs" stroke="#3d404a" stroke-width="0.1">1,000.0000</text>
<text x="1831.30" y="470.20" font-size="12" fill="#3d404a" text-anchor="start" textLength="59.11" lengthAdjust="spacingAndGlyphs" stroke="#3d404a" stroke-width="0.1">1,200.0000</text>
<text x="1831.30" y="440.20" font-size="12" fill="#3d404a" text-anchor="start" textLength="59.11" lengthAdjust="spacingAndGlyphs" stroke="#3d404a" stroke-width="0.1">1,400.0000</text>
<text x="1831.30" y="410.20" font-size="12" fill="#3d404a" text-anchor="start" textLength="59.11" lengthAdjust="spacingAndGlyphs" stroke="#3d404a" stroke-width="0.1">1,600.0000</text>
<text x="1831.30" y="379.20" font-size="12" fill="#3d404a" text-anchor="start" textLength="59.11" lengthAdjust="spacingAndGlyphs" stroke="#3d404a" stroke-width="0.1">1,800.0000</text>
<text x="1831.30" y="349.20" font-size="12" fill="#3d404a" text-anchor="start" textLength="59.11" lengthAdjust="spacingAndGlyphs" stroke="#3d404a" stroke-width="0.1">2,000.0000</text>
<text x="1831.30" y="318.20" font-size="12" fill="#3d404a" text-anchor="start" textLength="59.11" lengthAdjust="spacingAndGlyphs" stroke="#3d404a" stroke-width="0.1">2,200.0000</text>
<text x="1831.30" y="288.20" font-size="12" fill="#3d404a" text-anchor="start" textLength="59.11" lengthAdjust="spacingAndGlyphs" stroke="#3d404a" stroke-width="0.1">2,400.0000</text>
<text x="1831.30" y="258.20" font-size="12" fill="#3d404a" text-anchor="start" textLength="59.11" lengthAdjust="spacingAndGlyphs" stroke="#3d404a" stroke-width="0.1">2,600.0000</text>
<text x="1831.30" y="227.20" font-size="12" fill="#3d404a" text-anchor="start" textLength="59.11" lengthAdjust="spacingAndGlyphs" stroke="#3d404a" stroke-width="0.1">2,800.0000</text>
<text x="1831.30" y="197.20" font-size="12" fill="#3d404a" text-anchor="start" textLength="59.11" lengthAdjust="spacingAndGlyphs" stroke="#3d404a" stroke-width="0.1">3,000.0000</text>
<text x="1831.30" y="167.20" font-size="12" fill="#3d404a" text-anchor="start" textLength="59.11" lengthAdjust="spacingAndGlyphs" stroke="#3d404a" stroke-width="0.1">3,200.0000</text>
<text x="1831.30" y="136.20" font-size="12" fill="#3d404a" text-anchor="start" textLength="59.11" lengthAdjust="spacingAndGlyphs" stroke="#3d404a" stroke-width="0.1">3,400.0000</text>
<text x="1831.30" y="106.20" font-size="12" fill="#3d404a" text-anchor="start" textLength="59.11" lengthAdjust="spacingAndGlyphs" stroke="#3d404a" stroke-width="0.1">3,600.0000</text>
<text x="1831.30" y="75.20" font-size="12" fill="#3d404a" text-anchor="start" textLength="59.11" lengthAdjust="spacingAndGlyphs" stroke="#3d404a" stroke-width="0.1">3,800.0000</text>
<text x="1831.30" y="45.20" font-size="12" fill="#3d404a" text-anchor="start" textLength="59.11" lengthAdjust="spacingAndGlyphs" stroke="#3d404a" stroke-width="0.1">4,000.0000</text>
<text x="1831.30" y="15.20" font-size="12" fill="#3d404a" text-anchor="start" textLength="59.11" lengthAdjust="spacingAndGlyphs" stroke="#3d404a" stroke-width="0.1">4,200.0000</text>
<text x="1831.30" y="604.70" font-size="12" fill="#3d404a" text-anchor="start" textLength="29.56" lengthAdjust="spacingAndGlyphs" stroke="#3d404a" stroke-width="0.1">60.00</text>
<text x="1831.30" y="650.90" font-size="12" fill="#3d404a" text-anchor="start" textLength="29.56" lengthAdjust="spacingAndGlyphs" stroke="#3d404a" stroke-width="0.1">40.00</text>
<text x="1831.30" y="698.00" font-size="12" fill="#3d404a" text-anchor="start" textLength="29.56" lengthAdjust="spacingAndGlyphs" stroke="#3d404a" stroke-width="0.1">20.00</text>
<text x="1831.30" y="730.60" font-size="12" fill="#3d404a" text-anchor="start" textLength="48.42" lengthAdjust="spacingAndGlyphs" stroke="#3d404a" stroke-width="0.1">200.0000</text>
<text x="1831.30" y="802.90" font-size="12" fill="#3d404a" text-anchor="start" textLength="52.82" lengthAdjust="spacingAndGlyphs" stroke="#3d404a" stroke-width="0.1">-200.0000</text>
<rect x="1823" y="240" width="73" height="16.8" rx="1.5" fill="#000"/>
<text x="1831.30" y="252.00" font-size="12" fill="#fff" text-anchor="start" textLength="59.11" lengthAdjust="spacingAndGlyphs" stroke="#fff" stroke-width="0.35">2,641.6282</text>
<rect x="1823" y="278.1" width="73" height="16.9" rx="1.5" fill="#2962ff"/>
<text x="1831.30" y="290.15" font-size="12" fill="#fff" text-anchor="start" textLength="59.11" lengthAdjust="spacingAndGlyphs" stroke="#fff" stroke-width="0.35">2,353.3770</text>
<rect x="1823" y="295" width="73" height="17.0" rx="1.5" fill="#2e8b57"/>
<text x="1831.30" y="307.10" font-size="12" fill="#fff" text-anchor="start" textLength="59.11" lengthAdjust="spacingAndGlyphs" stroke="#fff" stroke-width="0.35">2,284.1300</text>
<rect x="1823" y="312" width="73" height="16.8" rx="1.5" fill="#f23645"/>
<text x="1831.30" y="324.00" font-size="12" fill="#fff" text-anchor="start" textLength="59.11" lengthAdjust="spacingAndGlyphs" stroke="#fff" stroke-width="0.35">2,210.0987</text>
<rect x="1823" y="536.1" width="63" height="16.7" rx="1.5" fill="#f7525f"/>
<text x="1831.30" y="548.85" font-size="12" fill="#fff" text-anchor="start" textLength="49.04" lengthAdjust="spacingAndGlyphs" stroke="#fff" stroke-width="0.35">250.966K</text>
<rect x="1823" y="606.2" width="43" height="16.6" rx="1.5" fill="#7e57c2"/>
<text x="1831.30" y="618.90" font-size="12" fill="#fff" text-anchor="start" textLength="29.56" lengthAdjust="spacingAndGlyphs" stroke="#fff" stroke-width="0.35">54.05</text>
<rect x="1823" y="719" width="55.7" height="16.8" rx="1.5" fill="#2196f3"/>
<text x="1831.30" y="731.80" font-size="12" fill="#fff" text-anchor="start" textLength="42.13" lengthAdjust="spacingAndGlyphs" stroke="#fff" stroke-width="0.35">59.6451</text>
<rect x="1823" y="735.8" width="55.7" height="17.2" rx="1.5" fill="#ff6d00"/>
<text x="1831.30" y="748.80" font-size="12" fill="#fff" text-anchor="start" textLength="42.13" lengthAdjust="spacingAndGlyphs" stroke="#fff" stroke-width="0.35">56.1779</text>
<rect x="1823" y="753.4" width="48.6" height="16.4" rx="1.5" fill="#b2dfdb"/>
<text x="1831.30" y="766.00" font-size="12" fill="#111" text-anchor="start" textLength="35.84" lengthAdjust="spacingAndGlyphs" stroke="#111" stroke-width="0.1">3.4672</text>
<rect x="2" y="562" width="1898" height="1" fill="#e0e3eb"/>
<rect x="2" y="709" width="1898" height="1" fill="#e0e3eb"/>
<text x="66.80" y="840.30" font-size="12" fill="#3d404a" text-anchor="middle" textLength="12.58" lengthAdjust="spacingAndGlyphs" stroke="#3d404a" stroke-width="0.1">14</text>
<text x="171.74" y="840.30" font-size="12" fill="#3d404a" text-anchor="middle" textLength="18.78" lengthAdjust="spacingAndGlyphs" stroke="#3d404a" stroke-width="0.1">Oct</text>
<text x="252.00" y="840.30" font-size="12" fill="#3d404a" text-anchor="middle" textLength="12.58" lengthAdjust="spacingAndGlyphs" stroke="#3d404a" stroke-width="0.1">14</text>
<text x="363.12" y="840.30" font-size="12" fill="#3d404a" text-anchor="middle" textLength="19.98" lengthAdjust="spacingAndGlyphs" stroke="#3d404a" stroke-width="0.1">Nov</text>
<text x="443.37" y="840.30" font-size="12" fill="#3d404a" text-anchor="middle" textLength="12.58" lengthAdjust="spacingAndGlyphs" stroke="#3d404a" stroke-width="0.1">14</text>
<text x="548.32" y="840.30" font-size="12" fill="#3d404a" text-anchor="middle" textLength="19.84" lengthAdjust="spacingAndGlyphs" stroke="#3d404a" stroke-width="0.1">Dec</text>
<text x="628.57" y="840.30" font-size="12" fill="#3d404a" text-anchor="middle" textLength="12.58" lengthAdjust="spacingAndGlyphs" stroke="#3d404a" stroke-width="0.1">14</text>
<text x="739.69" y="840.30" font-size="12" fill="#3d404a" text-anchor="middle" textLength="27.42" lengthAdjust="spacingAndGlyphs" font-weight="bold" stroke="#3d404a" stroke-width="0.1">2026</text>
<text x="819.94" y="840.30" font-size="12" fill="#3d404a" text-anchor="middle" textLength="12.58" lengthAdjust="spacingAndGlyphs" stroke="#3d404a" stroke-width="0.1">14</text>
<text x="931.06" y="840.30" font-size="12" fill="#3d404a" text-anchor="middle" textLength="19.52" lengthAdjust="spacingAndGlyphs" stroke="#3d404a" stroke-width="0.1">Feb</text>
<text x="1011.31" y="840.30" font-size="12" fill="#3d404a" text-anchor="middle" textLength="12.58" lengthAdjust="spacingAndGlyphs" stroke="#3d404a" stroke-width="0.1">14</text>
<text x="1103.91" y="840.30" font-size="12" fill="#3d404a" text-anchor="middle" textLength="19.48" lengthAdjust="spacingAndGlyphs" stroke="#3d404a" stroke-width="0.1">Mar</text>
<text x="1184.17" y="840.30" font-size="12" fill="#3d404a" text-anchor="middle" textLength="12.58" lengthAdjust="spacingAndGlyphs" stroke="#3d404a" stroke-width="0.1">14</text>
<text x="1295.29" y="840.30" font-size="12" fill="#3d404a" text-anchor="middle" textLength="18.43" lengthAdjust="spacingAndGlyphs" stroke="#3d404a" stroke-width="0.1">Apr</text>
<text x="1375.54" y="840.30" font-size="12" fill="#3d404a" text-anchor="middle" textLength="12.58" lengthAdjust="spacingAndGlyphs" stroke="#3d404a" stroke-width="0.1">14</text>
<text x="1480.48" y="840.30" font-size="12" fill="#3d404a" text-anchor="middle" textLength="20.72" lengthAdjust="spacingAndGlyphs" stroke="#3d404a" stroke-width="0.1">May</text>
<text x="1560.74" y="840.30" font-size="12" fill="#3d404a" text-anchor="middle" textLength="12.58" lengthAdjust="spacingAndGlyphs" stroke="#3d404a" stroke-width="0.1">14</text>
<text x="1671.86" y="840.30" font-size="12" fill="#3d404a" text-anchor="middle" textLength="18.83" lengthAdjust="spacingAndGlyphs" stroke="#3d404a" stroke-width="0.1">Jun</text>
<text x="1752.11" y="840.30" font-size="12" fill="#3d404a" text-anchor="middle" textLength="12.58" lengthAdjust="spacingAndGlyphs" stroke="#3d404a" stroke-width="0.1">14</text>
<rect x="0" y="0" width="1902" height="2" fill="#eff1f5"/>
<rect x="0" y="849" width="1902" height="2" fill="#eff1f5"/>
<rect x="0" y="0" width="2" height="851" fill="#eff1f5"/>
<rect x="1900" y="0" width="2" height="851" fill="#eff1f5"/>
</svg>
</body></html>
